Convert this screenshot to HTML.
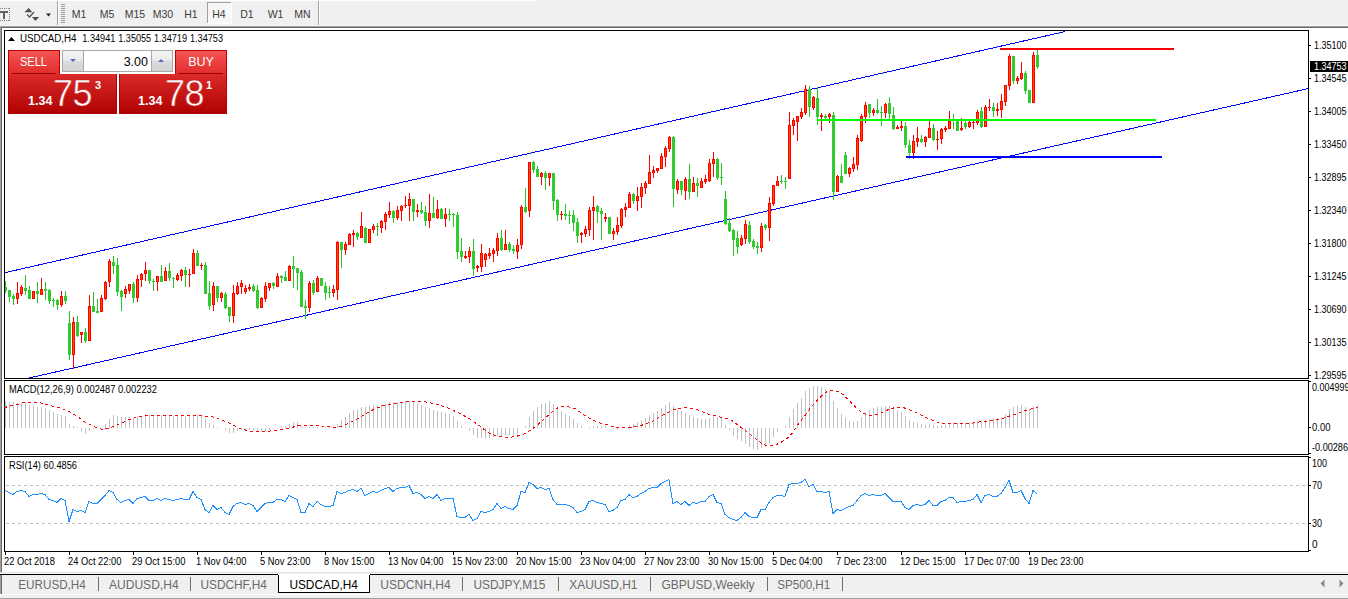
<!DOCTYPE html>
<html><head><meta charset="utf-8"><title>USDCAD,H4</title><style>
*{margin:0;padding:0;box-sizing:border-box}
html,body{width:1348px;height:599px;overflow:hidden;background:#fff}
body{position:relative;font-family:"Liberation Sans",sans-serif}
svg{position:absolute;left:0;top:0}
svg text{font-family:"Liberation Sans",sans-serif}
.sellT,.buyT{position:absolute;top:50px;height:25px;background:linear-gradient(#f65454,#e02a2a);border:1px solid #b80000;border-bottom:none;color:#fff;font-size:12px;text-align:center}
.sellT{left:8px;width:52px}
.buyT{left:175px;width:52px}
.sellT span,.buyT span{position:absolute;left:0;right:0;top:4px}
.sellT span{transform:scaleX(0.92);left:-1px}
.buyT span{font-size:12.5px}
.sellT:after,.buyT:after{content:"";position:absolute;left:3px;right:3px;top:22px;height:1px;background:#9a0000}
.sellP,.buyP{position:absolute;top:74px;height:40px;background:linear-gradient(#da2a2a,#b10202);border:1px solid #b00000;border-top:none;color:#fff}
.sellP{left:8px;width:109px}
.buyP{left:119px;width:108px}
.sellP .s,.buyP .s{position:absolute;top:20px;font-size:12.5px;font-weight:bold}
.sellP .b,.buyP .b{position:absolute;top:-1px;font-size:36px;font-weight:normal;letter-spacing:-0.5px;-webkit-text-stroke:0.6px #cc1c1c}
.sellP .p,.buyP .p{position:absolute;top:5px;font-size:11px;font-weight:bold}
.sellP .s{left:19px}.sellP .b{left:44px}.sellP .p{left:86px}
.buyP .s{left:18px}.buyP .b{left:45px}.buyP .p{left:86px}
.lot{position:absolute;left:62px;top:50px;width:111px;height:22px;border:1px solid #a8a8a8;background:#fff}
.lb,.rb{position:absolute;top:0;width:21px;height:20px;background:linear-gradient(#f3f3f3 0%,#ececec 45%,#dcdcdc 50%,#d4d4d4 100%)}
.lb{left:0;border-right:1px solid #a8a8a8}.rb{right:0;border-left:1px solid #a8a8a8}
.lv{position:absolute;left:22px;width:63px;top:4px;text-align:right;font-size:12.5px;color:#000}
.dn,.up{position:absolute;left:7px;top:8px;width:0;height:0;border-left:3px solid transparent;border-right:3px solid transparent}
.dn{border-top:3px solid #5868c8}
.up{border-bottom:3px solid #5868c8;left:6px}
</style></head>
<body>
<svg width="1348" height="599" viewBox="0 0 1348 599">
<rect x="0" y="0" width="1348" height="26" fill="#f0f0f0"/>
<rect x="0" y="0" width="536" height="1" fill="#ffffff"/>
<rect x="0" y="25" width="1348" height="1" fill="#f7f7f7"/>
<rect x="0" y="26" width="1348" height="1" fill="#a0a0a0"/>
<rect x="1" y="27" width="1347" height="1" fill="#696969"/>
<rect x="0" y="26" width="1" height="546" fill="#a0a0a0"/>
<rect x="1" y="27" width="1" height="545" fill="#696969"/>
<rect x="57" y="1" width="1" height="24" fill="#a0a0a0"/>
<rect x="58" y="1" width="1" height="24" fill="#ffffff"/>
<rect x="318" y="1" width="1" height="24" fill="#a0a0a0"/>
<rect x="319" y="1" width="1" height="24" fill="#ffffff"/>
<rect x="61" y="4" width="4" height="1" fill="#a0a0a0"/>
<rect x="61" y="6" width="4" height="1" fill="#a0a0a0"/>
<rect x="61" y="8" width="4" height="1" fill="#a0a0a0"/>
<rect x="61" y="10" width="4" height="1" fill="#a0a0a0"/>
<rect x="61" y="12" width="4" height="1" fill="#a0a0a0"/>
<rect x="61" y="14" width="4" height="1" fill="#a0a0a0"/>
<rect x="61" y="16" width="4" height="1" fill="#a0a0a0"/>
<rect x="61" y="18" width="4" height="1" fill="#a0a0a0"/>
<rect x="61" y="20" width="4" height="1" fill="#a0a0a0"/>
<rect x="61" y="22" width="4" height="1" fill="#a0a0a0"/>
<rect x="0" y="8" width="1" height="1" fill="#808080"/>
<rect x="0" y="20" width="1" height="1" fill="#808080"/>
<rect x="2" y="8" width="1" height="1" fill="#808080"/>
<rect x="2" y="20" width="1" height="1" fill="#808080"/>
<rect x="4" y="8" width="1" height="1" fill="#808080"/>
<rect x="4" y="20" width="1" height="1" fill="#808080"/>
<rect x="6" y="8" width="1" height="1" fill="#808080"/>
<rect x="6" y="20" width="1" height="1" fill="#808080"/>
<rect x="8" y="8" width="1" height="1" fill="#808080"/>
<rect x="8" y="20" width="1" height="1" fill="#808080"/>
<rect x="9" y="8" width="1" height="1" fill="#808080"/>
<rect x="9" y="10" width="1" height="1" fill="#808080"/>
<rect x="9" y="12" width="1" height="1" fill="#808080"/>
<rect x="9" y="14" width="1" height="1" fill="#808080"/>
<rect x="9" y="16" width="1" height="1" fill="#808080"/>
<rect x="9" y="18" width="1" height="1" fill="#808080"/>
<rect x="9" y="20" width="1" height="1" fill="#808080"/>
<rect x="0" y="11" width="8" height="2" fill="#606060"/>
<rect x="3" y="11" width="2" height="8" fill="#606060"/>
<path d="M28.5 8 L32.5 12.3 L24.5 12.3 Z" fill="#505050"/>
<path d="M35.5 21 L39 17 L32 17 Z" fill="#505050"/>
<path d="M27 14.5 L29.5 17 L34 12" stroke="#505050" stroke-width="1.3" fill="none"/>
<path d="M46 13.5 L51 13.5 L48.5 16.5 Z" fill="#202020"/>
<rect x="207" y="2" width="25" height="22" fill="#f7f7f7"/>
<rect x="207" y="2" width="25" height="1" fill="#a0a0a0"/>
<rect x="207" y="2" width="1" height="22" fill="#a0a0a0"/>
<rect x="207" y="23" width="25" height="1" fill="#ffffff"/>
<rect x="231" y="2" width="1" height="22" fill="#ffffff"/>
<text x="79" y="18" font-size="10.5" fill="#3c3c3c" text-anchor="middle" font-weight="normal" >M1</text>
<text x="107" y="18" font-size="10.5" fill="#3c3c3c" text-anchor="middle" font-weight="normal" >M5</text>
<text x="135" y="18" font-size="10.5" fill="#3c3c3c" text-anchor="middle" font-weight="normal" >M15</text>
<text x="163" y="18" font-size="10.5" fill="#3c3c3c" text-anchor="middle" font-weight="normal" >M30</text>
<text x="191" y="18" font-size="10.5" fill="#3c3c3c" text-anchor="middle" font-weight="normal" >H1</text>
<text x="219" y="18" font-size="10.5" fill="#3c3c3c" text-anchor="middle" font-weight="normal" >H4</text>
<text x="247" y="18" font-size="10.5" fill="#3c3c3c" text-anchor="middle" font-weight="normal" >D1</text>
<text x="275.5" y="18" font-size="10.5" fill="#3c3c3c" text-anchor="middle" font-weight="normal" >W1</text>
<text x="302.5" y="18" font-size="10.5" fill="#3c3c3c" text-anchor="middle" font-weight="normal" >MN</text>
<rect x="2" y="28" width="1346" height="544" fill="#ffffff"/>
<rect x="4" y="30" width="1305" height="1" fill="#000"/>
<rect x="4" y="378" width="1305" height="1" fill="#000"/>
<rect x="4" y="30" width="1" height="349" fill="#000"/>
<rect x="1308" y="30" width="1" height="349" fill="#000"/>
<rect x="4" y="380" width="1305" height="1" fill="#000"/>
<rect x="4" y="454" width="1305" height="1" fill="#000"/>
<rect x="4" y="380" width="1" height="75" fill="#000"/>
<rect x="1308" y="380" width="1" height="75" fill="#000"/>
<rect x="4" y="456" width="1305" height="1" fill="#000"/>
<rect x="4" y="551" width="1305" height="1" fill="#000"/>
<rect x="4" y="456" width="1" height="96" fill="#000"/>
<rect x="1308" y="456" width="1" height="96" fill="#000"/>
<rect x="1309" y="45" width="2" height="1" fill="#000"/>
<text x="1314" y="49" font-size="10" fill="#000" text-anchor="start" font-weight="normal"  textLength="32.5" lengthAdjust="spacingAndGlyphs">1.35100</text>
<rect x="1309" y="78" width="2" height="1" fill="#000"/>
<text x="1314" y="82" font-size="10" fill="#000" text-anchor="start" font-weight="normal"  textLength="32.5" lengthAdjust="spacingAndGlyphs">1.34545</text>
<rect x="1309" y="111" width="2" height="1" fill="#000"/>
<text x="1314" y="115" font-size="10" fill="#000" text-anchor="start" font-weight="normal"  textLength="32.5" lengthAdjust="spacingAndGlyphs">1.34005</text>
<rect x="1309" y="144" width="2" height="1" fill="#000"/>
<text x="1314" y="148" font-size="10" fill="#000" text-anchor="start" font-weight="normal"  textLength="32.5" lengthAdjust="spacingAndGlyphs">1.33450</text>
<rect x="1309" y="177" width="2" height="1" fill="#000"/>
<text x="1314" y="181" font-size="10" fill="#000" text-anchor="start" font-weight="normal"  textLength="32.5" lengthAdjust="spacingAndGlyphs">1.32895</text>
<rect x="1309" y="210" width="2" height="1" fill="#000"/>
<text x="1314" y="214" font-size="10" fill="#000" text-anchor="start" font-weight="normal"  textLength="32.5" lengthAdjust="spacingAndGlyphs">1.32340</text>
<rect x="1309" y="243" width="2" height="1" fill="#000"/>
<text x="1314" y="247" font-size="10" fill="#000" text-anchor="start" font-weight="normal"  textLength="32.5" lengthAdjust="spacingAndGlyphs">1.31800</text>
<rect x="1309" y="276" width="2" height="1" fill="#000"/>
<text x="1314" y="280" font-size="10" fill="#000" text-anchor="start" font-weight="normal"  textLength="32.5" lengthAdjust="spacingAndGlyphs">1.31245</text>
<rect x="1309" y="309" width="2" height="1" fill="#000"/>
<text x="1314" y="313" font-size="10" fill="#000" text-anchor="start" font-weight="normal"  textLength="32.5" lengthAdjust="spacingAndGlyphs">1.30690</text>
<rect x="1309" y="342" width="2" height="1" fill="#000"/>
<text x="1314" y="346" font-size="10" fill="#000" text-anchor="start" font-weight="normal"  textLength="32.5" lengthAdjust="spacingAndGlyphs">1.30135</text>
<rect x="1309" y="375" width="2" height="1" fill="#000"/>
<text x="1314" y="379" font-size="10" fill="#000" text-anchor="start" font-weight="normal"  textLength="32.5" lengthAdjust="spacingAndGlyphs">1.29595</text>
<rect x="1310" y="61" width="38" height="11" fill="#000"/>
<text x="1314" y="70" font-size="10" fill="#fff" text-anchor="start" font-weight="normal"  textLength="32.5" lengthAdjust="spacingAndGlyphs">1.34753</text>
<rect x="1309" y="381" width="2" height="1" fill="#000"/>
<text x="1312" y="391" font-size="10" fill="#000" text-anchor="start" font-weight="normal"  textLength="37.5" lengthAdjust="spacingAndGlyphs">0.004999</text>
<rect x="1309" y="427" width="2" height="1" fill="#000"/>
<text x="1312" y="431" font-size="10" fill="#000" text-anchor="start" font-weight="normal"  textLength="18.4" lengthAdjust="spacingAndGlyphs">0.00</text>
<rect x="1309" y="453" width="2" height="1" fill="#000"/>
<text x="1312" y="451" font-size="10" fill="#000" text-anchor="start" font-weight="normal"  textLength="36" lengthAdjust="spacingAndGlyphs">-0.00286</text>
<rect x="1309" y="457" width="2" height="1" fill="#000"/>
<text x="1312" y="467" font-size="10" fill="#000" text-anchor="start" font-weight="normal"  textLength="15" lengthAdjust="spacingAndGlyphs">100</text>
<rect x="1309" y="485" width="2" height="1" fill="#000"/>
<text x="1312" y="489" font-size="10" fill="#000" text-anchor="start" font-weight="normal"  textLength="10" lengthAdjust="spacingAndGlyphs">70</text>
<rect x="1309" y="523" width="2" height="1" fill="#000"/>
<text x="1312" y="527" font-size="10" fill="#000" text-anchor="start" font-weight="normal"  textLength="10" lengthAdjust="spacingAndGlyphs">30</text>
<rect x="1309" y="550" width="2" height="1" fill="#000"/>
<text x="1312" y="548" font-size="10" fill="#000" text-anchor="start" font-weight="normal" >0</text>
<rect x="5" y="552" width="1" height="3" fill="#000"/>
<text transform="translate(4,565) scale(0.925,1)" font-size="10.1" fill="#000">22 Oct 2018</text>
<rect x="69" y="552" width="1" height="3" fill="#000"/>
<text transform="translate(68,565) scale(0.925,1)" font-size="10.1" fill="#000">24 Oct 22:00</text>
<rect x="133" y="552" width="1" height="3" fill="#000"/>
<text transform="translate(132,565) scale(0.925,1)" font-size="10.1" fill="#000">29 Oct 15:00</text>
<rect x="197" y="552" width="1" height="3" fill="#000"/>
<text transform="translate(196,565) scale(0.925,1)" font-size="10.1" fill="#000">1 Nov 04:00</text>
<rect x="261" y="552" width="1" height="3" fill="#000"/>
<text transform="translate(260,565) scale(0.925,1)" font-size="10.1" fill="#000">5 Nov 23:00</text>
<rect x="325" y="552" width="1" height="3" fill="#000"/>
<text transform="translate(324,565) scale(0.925,1)" font-size="10.1" fill="#000">8 Nov 15:00</text>
<rect x="389" y="552" width="1" height="3" fill="#000"/>
<text transform="translate(388,565) scale(0.925,1)" font-size="10.1" fill="#000">13 Nov 04:00</text>
<rect x="453" y="552" width="1" height="3" fill="#000"/>
<text transform="translate(452,565) scale(0.925,1)" font-size="10.1" fill="#000">15 Nov 23:00</text>
<rect x="517" y="552" width="1" height="3" fill="#000"/>
<text transform="translate(516,565) scale(0.925,1)" font-size="10.1" fill="#000">20 Nov 15:00</text>
<rect x="581" y="552" width="1" height="3" fill="#000"/>
<text transform="translate(580,565) scale(0.925,1)" font-size="10.1" fill="#000">23 Nov 04:00</text>
<rect x="645" y="552" width="1" height="3" fill="#000"/>
<text transform="translate(644,565) scale(0.925,1)" font-size="10.1" fill="#000">27 Nov 23:00</text>
<rect x="709" y="552" width="1" height="3" fill="#000"/>
<text transform="translate(708,565) scale(0.925,1)" font-size="10.1" fill="#000">30 Nov 15:00</text>
<rect x="773" y="552" width="1" height="3" fill="#000"/>
<text transform="translate(772,565) scale(0.925,1)" font-size="10.1" fill="#000">5 Dec 04:00</text>
<rect x="837" y="552" width="1" height="3" fill="#000"/>
<text transform="translate(836,565) scale(0.925,1)" font-size="10.1" fill="#000">7 Dec 23:00</text>
<rect x="901" y="552" width="1" height="3" fill="#000"/>
<text transform="translate(900,565) scale(0.925,1)" font-size="10.1" fill="#000">12 Dec 15:00</text>
<rect x="965" y="552" width="1" height="3" fill="#000"/>
<text transform="translate(964,565) scale(0.925,1)" font-size="10.1" fill="#000">17 Dec 07:00</text>
<rect x="1029" y="552" width="1" height="3" fill="#000"/>
<text transform="translate(1028,565) scale(0.925,1)" font-size="10.1" fill="#000">19 Dec 23:00</text>
<defs><clipPath id="cm"><rect x="5" y="31" width="1303" height="347"/></clipPath></defs>
<g clip-path="url(#cm)" shape-rendering="crispEdges" stroke="#0000ff" stroke-width="1" fill="none">
<line x1="0" y1="273.76" x2="1064.6" y2="31.66"/>
<line x1="0" y1="384.57" x2="1310" y2="88.18"/>
</g>
<g clip-path="url(#cm)" shape-rendering="crispEdges">
<rect x="5" y="281" width="1" height="12" fill="#22c822"/>
<rect x="4" y="287" width="3" height="4" fill="#2ecc2e"/>
<rect x="9" y="290" width="1" height="12" fill="#22c822"/>
<rect x="8" y="290" width="3" height="7" fill="#2ecc2e"/>
<rect x="13" y="294" width="1" height="11" fill="#22c822"/>
<rect x="12" y="296" width="3" height="3" fill="#2ecc2e"/>
<rect x="17" y="282" width="1" height="22" fill="#ff0000"/>
<rect x="16" y="293" width="3" height="6" fill="#ff0000"/>
<rect x="17" y="294" width="1" height="4" fill="#ff4a00"/>
<rect x="21" y="285" width="1" height="11" fill="#ff0000"/>
<rect x="20" y="287" width="3" height="7" fill="#ff0000"/>
<rect x="21" y="288" width="1" height="5" fill="#ff4a00"/>
<rect x="25" y="275" width="1" height="20" fill="#22c822"/>
<rect x="24" y="288" width="3" height="3" fill="#2ecc2e"/>
<rect x="29" y="286" width="1" height="13" fill="#22c822"/>
<rect x="28" y="290" width="3" height="9" fill="#2ecc2e"/>
<rect x="33" y="291" width="1" height="8" fill="#ff0000"/>
<rect x="32" y="291" width="3" height="8" fill="#ff0000"/>
<rect x="33" y="292" width="1" height="6" fill="#ff4a00"/>
<rect x="37" y="282" width="1" height="21" fill="#22c822"/>
<rect x="36" y="291" width="3" height="3" fill="#2ecc2e"/>
<rect x="41" y="278" width="1" height="17" fill="#ff0000"/>
<rect x="40" y="289" width="3" height="6" fill="#ff0000"/>
<rect x="41" y="290" width="1" height="4" fill="#ff4a00"/>
<rect x="45" y="282" width="1" height="18" fill="#22c822"/>
<rect x="44" y="289" width="3" height="2" fill="#2ecc2e"/>
<rect x="49" y="289" width="1" height="15" fill="#22c822"/>
<rect x="48" y="290" width="3" height="11" fill="#2ecc2e"/>
<rect x="53" y="298" width="1" height="9" fill="#22c822"/>
<rect x="52" y="300" width="3" height="1" fill="#2ecc2e"/>
<rect x="57" y="299" width="1" height="11" fill="#22c822"/>
<rect x="56" y="300" width="3" height="5" fill="#2ecc2e"/>
<rect x="61" y="291" width="1" height="16" fill="#ff0000"/>
<rect x="60" y="296" width="3" height="9" fill="#ff0000"/>
<rect x="61" y="297" width="1" height="7" fill="#ff4a00"/>
<rect x="65" y="291" width="1" height="13" fill="#22c822"/>
<rect x="64" y="296" width="3" height="5" fill="#2ecc2e"/>
<rect x="69" y="311" width="1" height="49" fill="#22c822"/>
<rect x="68" y="323" width="3" height="32" fill="#2ecc2e"/>
<rect x="73" y="317" width="1" height="52" fill="#ff0000"/>
<rect x="72" y="322" width="3" height="33" fill="#ff0000"/>
<rect x="73" y="323" width="1" height="31" fill="#ff4a00"/>
<rect x="77" y="316" width="1" height="21" fill="#22c822"/>
<rect x="76" y="322" width="3" height="14" fill="#2ecc2e"/>
<rect x="81" y="332" width="1" height="11" fill="#ff0000"/>
<rect x="80" y="332" width="3" height="3" fill="#ff0000"/>
<rect x="81" y="333" width="1" height="1" fill="#ff4a00"/>
<rect x="85" y="328" width="1" height="15" fill="#22c822"/>
<rect x="84" y="332" width="3" height="9" fill="#2ecc2e"/>
<rect x="89" y="295" width="1" height="46" fill="#ff0000"/>
<rect x="88" y="306" width="3" height="35" fill="#ff0000"/>
<rect x="89" y="307" width="1" height="33" fill="#ff4a00"/>
<rect x="93" y="292" width="1" height="20" fill="#22c822"/>
<rect x="92" y="306" width="3" height="6" fill="#2ecc2e"/>
<rect x="97" y="299" width="1" height="14" fill="#22c822"/>
<rect x="96" y="311" width="3" height="2" fill="#2ecc2e"/>
<rect x="101" y="295" width="1" height="17" fill="#ff0000"/>
<rect x="100" y="298" width="3" height="14" fill="#ff0000"/>
<rect x="101" y="299" width="1" height="12" fill="#ff4a00"/>
<rect x="105" y="281" width="1" height="19" fill="#ff0000"/>
<rect x="104" y="282" width="3" height="17" fill="#ff0000"/>
<rect x="105" y="283" width="1" height="15" fill="#ff4a00"/>
<rect x="109" y="259" width="1" height="28" fill="#ff0000"/>
<rect x="108" y="261" width="3" height="21" fill="#ff0000"/>
<rect x="109" y="262" width="1" height="19" fill="#ff4a00"/>
<rect x="113" y="256" width="1" height="18" fill="#22c822"/>
<rect x="112" y="262" width="3" height="4" fill="#2ecc2e"/>
<rect x="117" y="258" width="1" height="38" fill="#22c822"/>
<rect x="116" y="265" width="3" height="27" fill="#2ecc2e"/>
<rect x="121" y="290" width="1" height="21" fill="#22c822"/>
<rect x="120" y="291" width="3" height="6" fill="#2ecc2e"/>
<rect x="125" y="286" width="1" height="12" fill="#ff0000"/>
<rect x="124" y="289" width="3" height="5" fill="#ff0000"/>
<rect x="125" y="290" width="1" height="3" fill="#ff4a00"/>
<rect x="129" y="284" width="1" height="10" fill="#ff0000"/>
<rect x="128" y="284" width="3" height="7" fill="#ff0000"/>
<rect x="129" y="285" width="1" height="5" fill="#ff4a00"/>
<rect x="133" y="282" width="1" height="21" fill="#22c822"/>
<rect x="132" y="284" width="3" height="14" fill="#2ecc2e"/>
<rect x="137" y="275" width="1" height="27" fill="#ff0000"/>
<rect x="136" y="279" width="3" height="19" fill="#ff0000"/>
<rect x="137" y="280" width="1" height="17" fill="#ff4a00"/>
<rect x="141" y="273" width="1" height="14" fill="#ff0000"/>
<rect x="140" y="274" width="3" height="6" fill="#ff0000"/>
<rect x="141" y="275" width="1" height="4" fill="#ff4a00"/>
<rect x="145" y="262" width="1" height="19" fill="#ff0000"/>
<rect x="144" y="270" width="3" height="4" fill="#ff0000"/>
<rect x="145" y="271" width="1" height="2" fill="#ff4a00"/>
<rect x="149" y="270" width="1" height="14" fill="#22c822"/>
<rect x="148" y="270" width="3" height="11" fill="#2ecc2e"/>
<rect x="153" y="279" width="1" height="12" fill="#22c822"/>
<rect x="152" y="281" width="3" height="1" fill="#2ecc2e"/>
<rect x="157" y="276" width="1" height="15" fill="#ff0000"/>
<rect x="156" y="276" width="3" height="6" fill="#ff0000"/>
<rect x="157" y="277" width="1" height="4" fill="#ff4a00"/>
<rect x="161" y="265" width="1" height="17" fill="#22c822"/>
<rect x="160" y="276" width="3" height="6" fill="#2ecc2e"/>
<rect x="165" y="267" width="1" height="14" fill="#ff0000"/>
<rect x="164" y="271" width="3" height="10" fill="#ff0000"/>
<rect x="165" y="272" width="1" height="8" fill="#ff4a00"/>
<rect x="169" y="263" width="1" height="18" fill="#22c822"/>
<rect x="168" y="271" width="3" height="7" fill="#2ecc2e"/>
<rect x="173" y="277" width="1" height="11" fill="#22c822"/>
<rect x="172" y="278" width="3" height="1" fill="#2ecc2e"/>
<rect x="177" y="273" width="1" height="8" fill="#ff0000"/>
<rect x="176" y="275" width="3" height="5" fill="#ff0000"/>
<rect x="177" y="276" width="1" height="3" fill="#ff4a00"/>
<rect x="181" y="269" width="1" height="12" fill="#ff0000"/>
<rect x="180" y="270" width="3" height="6" fill="#ff0000"/>
<rect x="181" y="271" width="1" height="4" fill="#ff4a00"/>
<rect x="185" y="267" width="1" height="20" fill="#22c822"/>
<rect x="184" y="270" width="3" height="5" fill="#2ecc2e"/>
<rect x="189" y="269" width="1" height="18" fill="#ff0000"/>
<rect x="188" y="274" width="3" height="1" fill="#ff0000"/>
<rect x="193" y="249" width="1" height="25" fill="#ff0000"/>
<rect x="192" y="253" width="3" height="21" fill="#ff0000"/>
<rect x="193" y="254" width="1" height="19" fill="#ff4a00"/>
<rect x="197" y="250" width="1" height="16" fill="#22c822"/>
<rect x="196" y="253" width="3" height="13" fill="#2ecc2e"/>
<rect x="201" y="263" width="1" height="7" fill="#ff0000"/>
<rect x="200" y="265" width="3" height="1" fill="#ff0000"/>
<rect x="205" y="262" width="1" height="32" fill="#22c822"/>
<rect x="204" y="265" width="3" height="29" fill="#2ecc2e"/>
<rect x="209" y="281" width="1" height="29" fill="#22c822"/>
<rect x="208" y="293" width="3" height="13" fill="#2ecc2e"/>
<rect x="213" y="282" width="1" height="29" fill="#ff0000"/>
<rect x="212" y="286" width="3" height="19" fill="#ff0000"/>
<rect x="213" y="287" width="1" height="17" fill="#ff4a00"/>
<rect x="217" y="286" width="1" height="16" fill="#22c822"/>
<rect x="216" y="286" width="3" height="12" fill="#2ecc2e"/>
<rect x="221" y="292" width="1" height="10" fill="#ff0000"/>
<rect x="220" y="293" width="3" height="5" fill="#ff0000"/>
<rect x="221" y="294" width="1" height="3" fill="#ff4a00"/>
<rect x="225" y="292" width="1" height="17" fill="#22c822"/>
<rect x="224" y="294" width="3" height="14" fill="#2ecc2e"/>
<rect x="229" y="307" width="1" height="15" fill="#22c822"/>
<rect x="228" y="307" width="3" height="9" fill="#2ecc2e"/>
<rect x="233" y="285" width="1" height="38" fill="#ff0000"/>
<rect x="232" y="293" width="3" height="23" fill="#ff0000"/>
<rect x="233" y="294" width="1" height="21" fill="#ff4a00"/>
<rect x="237" y="282" width="1" height="13" fill="#ff0000"/>
<rect x="236" y="286" width="3" height="8" fill="#ff0000"/>
<rect x="237" y="287" width="1" height="6" fill="#ff4a00"/>
<rect x="241" y="280" width="1" height="14" fill="#ff0000"/>
<rect x="240" y="283" width="3" height="4" fill="#ff0000"/>
<rect x="241" y="284" width="1" height="2" fill="#ff4a00"/>
<rect x="245" y="285" width="1" height="9" fill="#ff0000"/>
<rect x="244" y="288" width="3" height="4" fill="#ff0000"/>
<rect x="245" y="289" width="1" height="2" fill="#ff4a00"/>
<rect x="249" y="284" width="1" height="7" fill="#ff0000"/>
<rect x="248" y="287" width="3" height="2" fill="#ff0000"/>
<rect x="253" y="284" width="1" height="8" fill="#22c822"/>
<rect x="252" y="286" width="3" height="5" fill="#2ecc2e"/>
<rect x="257" y="285" width="1" height="24" fill="#22c822"/>
<rect x="256" y="290" width="3" height="18" fill="#2ecc2e"/>
<rect x="261" y="297" width="1" height="11" fill="#ff0000"/>
<rect x="260" y="298" width="3" height="10" fill="#ff0000"/>
<rect x="261" y="299" width="1" height="8" fill="#ff4a00"/>
<rect x="265" y="282" width="1" height="20" fill="#ff0000"/>
<rect x="264" y="286" width="3" height="13" fill="#ff0000"/>
<rect x="265" y="287" width="1" height="11" fill="#ff4a00"/>
<rect x="269" y="283" width="1" height="8" fill="#ff0000"/>
<rect x="268" y="283" width="3" height="5" fill="#ff0000"/>
<rect x="269" y="284" width="1" height="3" fill="#ff4a00"/>
<rect x="273" y="282" width="1" height="7" fill="#22c822"/>
<rect x="272" y="283" width="3" height="3" fill="#2ecc2e"/>
<rect x="277" y="273" width="1" height="14" fill="#ff0000"/>
<rect x="276" y="276" width="3" height="11" fill="#ff0000"/>
<rect x="277" y="277" width="1" height="9" fill="#ff4a00"/>
<rect x="281" y="275" width="1" height="8" fill="#22c822"/>
<rect x="280" y="276" width="3" height="2" fill="#2ecc2e"/>
<rect x="285" y="271" width="1" height="10" fill="#22c822"/>
<rect x="284" y="277" width="3" height="4" fill="#2ecc2e"/>
<rect x="289" y="265" width="1" height="16" fill="#ff0000"/>
<rect x="288" y="266" width="3" height="15" fill="#ff0000"/>
<rect x="289" y="267" width="1" height="13" fill="#ff4a00"/>
<rect x="293" y="256" width="1" height="32" fill="#22c822"/>
<rect x="292" y="266" width="3" height="3" fill="#2ecc2e"/>
<rect x="297" y="268" width="1" height="22" fill="#22c822"/>
<rect x="296" y="268" width="3" height="5" fill="#2ecc2e"/>
<rect x="301" y="270" width="1" height="37" fill="#22c822"/>
<rect x="300" y="272" width="3" height="35" fill="#2ecc2e"/>
<rect x="305" y="300" width="1" height="19" fill="#22c822"/>
<rect x="304" y="306" width="3" height="2" fill="#2ecc2e"/>
<rect x="309" y="281" width="1" height="31" fill="#ff0000"/>
<rect x="308" y="283" width="3" height="25" fill="#ff0000"/>
<rect x="309" y="284" width="1" height="23" fill="#ff4a00"/>
<rect x="313" y="280" width="1" height="15" fill="#22c822"/>
<rect x="312" y="283" width="3" height="10" fill="#2ecc2e"/>
<rect x="317" y="276" width="1" height="16" fill="#ff0000"/>
<rect x="316" y="278" width="3" height="14" fill="#ff0000"/>
<rect x="317" y="279" width="1" height="12" fill="#ff4a00"/>
<rect x="321" y="278" width="1" height="8" fill="#22c822"/>
<rect x="320" y="278" width="3" height="8" fill="#2ecc2e"/>
<rect x="325" y="282" width="1" height="18" fill="#22c822"/>
<rect x="324" y="286" width="3" height="7" fill="#2ecc2e"/>
<rect x="329" y="286" width="1" height="12" fill="#22c822"/>
<rect x="328" y="292" width="3" height="1" fill="#2ecc2e"/>
<rect x="333" y="285" width="1" height="12" fill="#ff0000"/>
<rect x="332" y="289" width="3" height="4" fill="#ff0000"/>
<rect x="333" y="290" width="1" height="2" fill="#ff4a00"/>
<rect x="337" y="241" width="1" height="59" fill="#ff0000"/>
<rect x="336" y="242" width="3" height="48" fill="#ff0000"/>
<rect x="337" y="243" width="1" height="46" fill="#ff4a00"/>
<rect x="341" y="242" width="1" height="26" fill="#22c822"/>
<rect x="340" y="242" width="3" height="8" fill="#2ecc2e"/>
<rect x="345" y="242" width="1" height="13" fill="#ff0000"/>
<rect x="344" y="244" width="3" height="6" fill="#ff0000"/>
<rect x="345" y="245" width="1" height="4" fill="#ff4a00"/>
<rect x="349" y="233" width="1" height="12" fill="#ff0000"/>
<rect x="348" y="234" width="3" height="11" fill="#ff0000"/>
<rect x="349" y="235" width="1" height="9" fill="#ff4a00"/>
<rect x="353" y="230" width="1" height="17" fill="#ff0000"/>
<rect x="352" y="233" width="3" height="2" fill="#ff0000"/>
<rect x="357" y="232" width="1" height="8" fill="#22c822"/>
<rect x="356" y="233" width="3" height="4" fill="#2ecc2e"/>
<rect x="361" y="212" width="1" height="26" fill="#ff0000"/>
<rect x="360" y="226" width="3" height="12" fill="#ff0000"/>
<rect x="361" y="227" width="1" height="10" fill="#ff4a00"/>
<rect x="365" y="227" width="1" height="16" fill="#22c822"/>
<rect x="364" y="228" width="3" height="15" fill="#2ecc2e"/>
<rect x="369" y="229" width="1" height="14" fill="#ff0000"/>
<rect x="368" y="229" width="3" height="14" fill="#ff0000"/>
<rect x="369" y="230" width="1" height="12" fill="#ff4a00"/>
<rect x="373" y="224" width="1" height="9" fill="#ff0000"/>
<rect x="372" y="226" width="3" height="4" fill="#ff0000"/>
<rect x="373" y="227" width="1" height="2" fill="#ff4a00"/>
<rect x="377" y="223" width="1" height="13" fill="#22c822"/>
<rect x="376" y="226" width="3" height="1" fill="#2ecc2e"/>
<rect x="381" y="220" width="1" height="13" fill="#ff0000"/>
<rect x="380" y="221" width="3" height="7" fill="#ff0000"/>
<rect x="381" y="222" width="1" height="5" fill="#ff4a00"/>
<rect x="385" y="212" width="1" height="18" fill="#ff0000"/>
<rect x="384" y="214" width="3" height="8" fill="#ff0000"/>
<rect x="385" y="215" width="1" height="6" fill="#ff4a00"/>
<rect x="389" y="202" width="1" height="16" fill="#ff0000"/>
<rect x="388" y="211" width="3" height="4" fill="#ff0000"/>
<rect x="389" y="212" width="1" height="2" fill="#ff4a00"/>
<rect x="393" y="210" width="1" height="13" fill="#22c822"/>
<rect x="392" y="211" width="3" height="7" fill="#2ecc2e"/>
<rect x="397" y="206" width="1" height="14" fill="#ff0000"/>
<rect x="396" y="210" width="3" height="8" fill="#ff0000"/>
<rect x="397" y="211" width="1" height="6" fill="#ff4a00"/>
<rect x="401" y="205" width="1" height="16" fill="#ff0000"/>
<rect x="400" y="206" width="3" height="5" fill="#ff0000"/>
<rect x="401" y="207" width="1" height="3" fill="#ff4a00"/>
<rect x="405" y="196" width="1" height="12" fill="#ff0000"/>
<rect x="404" y="205" width="3" height="1" fill="#ff0000"/>
<rect x="409" y="193" width="1" height="28" fill="#ff0000"/>
<rect x="408" y="199" width="3" height="7" fill="#ff0000"/>
<rect x="409" y="200" width="1" height="5" fill="#ff4a00"/>
<rect x="413" y="199" width="1" height="22" fill="#22c822"/>
<rect x="412" y="199" width="3" height="13" fill="#2ecc2e"/>
<rect x="417" y="204" width="1" height="13" fill="#ff0000"/>
<rect x="416" y="210" width="3" height="2" fill="#ff0000"/>
<rect x="421" y="202" width="1" height="12" fill="#22c822"/>
<rect x="420" y="210" width="3" height="3" fill="#2ecc2e"/>
<rect x="425" y="206" width="1" height="20" fill="#22c822"/>
<rect x="424" y="212" width="3" height="9" fill="#2ecc2e"/>
<rect x="429" y="194" width="1" height="34" fill="#ff0000"/>
<rect x="428" y="213" width="3" height="8" fill="#ff0000"/>
<rect x="429" y="214" width="1" height="6" fill="#ff4a00"/>
<rect x="433" y="197" width="1" height="21" fill="#22c822"/>
<rect x="432" y="213" width="3" height="5" fill="#2ecc2e"/>
<rect x="437" y="200" width="1" height="19" fill="#ff0000"/>
<rect x="436" y="209" width="3" height="9" fill="#ff0000"/>
<rect x="437" y="210" width="1" height="7" fill="#ff4a00"/>
<rect x="441" y="208" width="1" height="11" fill="#22c822"/>
<rect x="440" y="209" width="3" height="10" fill="#2ecc2e"/>
<rect x="445" y="208" width="1" height="19" fill="#ff0000"/>
<rect x="444" y="214" width="3" height="5" fill="#ff0000"/>
<rect x="445" y="215" width="1" height="3" fill="#ff4a00"/>
<rect x="449" y="209" width="1" height="12" fill="#22c822"/>
<rect x="448" y="214" width="3" height="1" fill="#2ecc2e"/>
<rect x="453" y="213" width="1" height="14" fill="#22c822"/>
<rect x="452" y="214" width="3" height="1" fill="#2ecc2e"/>
<rect x="457" y="212" width="1" height="47" fill="#22c822"/>
<rect x="456" y="215" width="3" height="37" fill="#2ecc2e"/>
<rect x="461" y="238" width="1" height="24" fill="#22c822"/>
<rect x="460" y="251" width="3" height="6" fill="#2ecc2e"/>
<rect x="465" y="251" width="1" height="8" fill="#ff0000"/>
<rect x="464" y="256" width="3" height="2" fill="#ff0000"/>
<rect x="469" y="247" width="1" height="16" fill="#ff0000"/>
<rect x="468" y="251" width="3" height="6" fill="#ff0000"/>
<rect x="469" y="252" width="1" height="4" fill="#ff4a00"/>
<rect x="473" y="239" width="1" height="37" fill="#22c822"/>
<rect x="472" y="251" width="3" height="18" fill="#2ecc2e"/>
<rect x="477" y="265" width="1" height="7" fill="#ff0000"/>
<rect x="476" y="266" width="3" height="2" fill="#ff0000"/>
<rect x="481" y="244" width="1" height="28" fill="#ff0000"/>
<rect x="480" y="253" width="3" height="14" fill="#ff0000"/>
<rect x="481" y="254" width="1" height="12" fill="#ff4a00"/>
<rect x="485" y="253" width="1" height="14" fill="#ff0000"/>
<rect x="484" y="254" width="3" height="6" fill="#ff0000"/>
<rect x="485" y="255" width="1" height="4" fill="#ff4a00"/>
<rect x="489" y="248" width="1" height="11" fill="#ff0000"/>
<rect x="488" y="253" width="3" height="3" fill="#ff0000"/>
<rect x="489" y="254" width="1" height="1" fill="#ff4a00"/>
<rect x="493" y="248" width="1" height="14" fill="#ff0000"/>
<rect x="492" y="250" width="3" height="4" fill="#ff0000"/>
<rect x="493" y="251" width="1" height="2" fill="#ff4a00"/>
<rect x="497" y="233" width="1" height="23" fill="#ff0000"/>
<rect x="496" y="238" width="3" height="13" fill="#ff0000"/>
<rect x="497" y="239" width="1" height="11" fill="#ff4a00"/>
<rect x="501" y="230" width="1" height="21" fill="#22c822"/>
<rect x="500" y="238" width="3" height="12" fill="#2ecc2e"/>
<rect x="505" y="230" width="1" height="20" fill="#ff0000"/>
<rect x="504" y="244" width="3" height="6" fill="#ff0000"/>
<rect x="505" y="245" width="1" height="4" fill="#ff4a00"/>
<rect x="509" y="242" width="1" height="10" fill="#22c822"/>
<rect x="508" y="244" width="3" height="6" fill="#2ecc2e"/>
<rect x="513" y="245" width="1" height="9" fill="#22c822"/>
<rect x="512" y="249" width="3" height="2" fill="#2ecc2e"/>
<rect x="517" y="239" width="1" height="20" fill="#ff0000"/>
<rect x="516" y="245" width="3" height="7" fill="#ff0000"/>
<rect x="517" y="246" width="1" height="5" fill="#ff4a00"/>
<rect x="521" y="205" width="1" height="44" fill="#ff0000"/>
<rect x="520" y="207" width="3" height="38" fill="#ff0000"/>
<rect x="521" y="208" width="1" height="36" fill="#ff4a00"/>
<rect x="525" y="188" width="1" height="25" fill="#22c822"/>
<rect x="524" y="207" width="3" height="5" fill="#2ecc2e"/>
<rect x="529" y="162" width="1" height="55" fill="#ff0000"/>
<rect x="528" y="162" width="3" height="49" fill="#ff0000"/>
<rect x="529" y="163" width="1" height="47" fill="#ff4a00"/>
<rect x="533" y="161" width="1" height="12" fill="#22c822"/>
<rect x="532" y="162" width="3" height="8" fill="#2ecc2e"/>
<rect x="537" y="166" width="1" height="11" fill="#22c822"/>
<rect x="536" y="169" width="3" height="8" fill="#2ecc2e"/>
<rect x="541" y="172" width="1" height="13" fill="#ff0000"/>
<rect x="540" y="173" width="3" height="4" fill="#ff0000"/>
<rect x="541" y="174" width="1" height="2" fill="#ff4a00"/>
<rect x="545" y="171" width="1" height="19" fill="#22c822"/>
<rect x="544" y="173" width="3" height="5" fill="#2ecc2e"/>
<rect x="549" y="173" width="1" height="13" fill="#ff0000"/>
<rect x="548" y="173" width="3" height="5" fill="#ff0000"/>
<rect x="549" y="174" width="1" height="3" fill="#ff4a00"/>
<rect x="553" y="173" width="1" height="37" fill="#22c822"/>
<rect x="552" y="173" width="3" height="28" fill="#2ecc2e"/>
<rect x="557" y="199" width="1" height="22" fill="#22c822"/>
<rect x="556" y="200" width="3" height="15" fill="#2ecc2e"/>
<rect x="561" y="211" width="1" height="9" fill="#ff0000"/>
<rect x="560" y="214" width="3" height="1" fill="#ff0000"/>
<rect x="565" y="204" width="1" height="16" fill="#22c822"/>
<rect x="564" y="214" width="3" height="2" fill="#2ecc2e"/>
<rect x="569" y="211" width="1" height="13" fill="#22c822"/>
<rect x="568" y="215" width="3" height="1" fill="#2ecc2e"/>
<rect x="573" y="210" width="1" height="21" fill="#22c822"/>
<rect x="572" y="215" width="3" height="8" fill="#2ecc2e"/>
<rect x="577" y="218" width="1" height="25" fill="#22c822"/>
<rect x="576" y="222" width="3" height="14" fill="#2ecc2e"/>
<rect x="581" y="232" width="1" height="11" fill="#ff0000"/>
<rect x="580" y="233" width="3" height="2" fill="#ff0000"/>
<rect x="585" y="226" width="1" height="11" fill="#ff0000"/>
<rect x="584" y="229" width="3" height="5" fill="#ff0000"/>
<rect x="585" y="230" width="1" height="3" fill="#ff4a00"/>
<rect x="589" y="207" width="1" height="29" fill="#ff0000"/>
<rect x="588" y="210" width="3" height="20" fill="#ff0000"/>
<rect x="589" y="211" width="1" height="18" fill="#ff4a00"/>
<rect x="593" y="196" width="1" height="44" fill="#ff0000"/>
<rect x="592" y="207" width="3" height="4" fill="#ff0000"/>
<rect x="593" y="208" width="1" height="2" fill="#ff4a00"/>
<rect x="597" y="205" width="1" height="18" fill="#22c822"/>
<rect x="596" y="206" width="3" height="6" fill="#2ecc2e"/>
<rect x="601" y="208" width="1" height="32" fill="#22c822"/>
<rect x="600" y="211" width="3" height="3" fill="#2ecc2e"/>
<rect x="605" y="213" width="1" height="9" fill="#ff0000"/>
<rect x="604" y="217" width="3" height="2" fill="#ff0000"/>
<rect x="609" y="217" width="1" height="17" fill="#22c822"/>
<rect x="608" y="217" width="3" height="17" fill="#2ecc2e"/>
<rect x="613" y="228" width="1" height="12" fill="#ff0000"/>
<rect x="612" y="231" width="3" height="3" fill="#ff0000"/>
<rect x="613" y="232" width="1" height="1" fill="#ff4a00"/>
<rect x="617" y="217" width="1" height="18" fill="#ff0000"/>
<rect x="616" y="225" width="3" height="7" fill="#ff0000"/>
<rect x="617" y="226" width="1" height="5" fill="#ff4a00"/>
<rect x="621" y="208" width="1" height="20" fill="#ff0000"/>
<rect x="620" y="209" width="3" height="17" fill="#ff0000"/>
<rect x="621" y="210" width="1" height="15" fill="#ff4a00"/>
<rect x="625" y="203" width="1" height="14" fill="#ff0000"/>
<rect x="624" y="207" width="3" height="3" fill="#ff0000"/>
<rect x="625" y="208" width="1" height="1" fill="#ff4a00"/>
<rect x="629" y="192" width="1" height="16" fill="#ff0000"/>
<rect x="628" y="194" width="3" height="14" fill="#ff0000"/>
<rect x="629" y="195" width="1" height="12" fill="#ff4a00"/>
<rect x="633" y="193" width="1" height="11" fill="#22c822"/>
<rect x="632" y="194" width="3" height="7" fill="#2ecc2e"/>
<rect x="637" y="187" width="1" height="24" fill="#ff0000"/>
<rect x="636" y="196" width="3" height="5" fill="#ff0000"/>
<rect x="637" y="197" width="1" height="3" fill="#ff4a00"/>
<rect x="641" y="183" width="1" height="25" fill="#ff0000"/>
<rect x="640" y="187" width="3" height="10" fill="#ff0000"/>
<rect x="641" y="188" width="1" height="8" fill="#ff4a00"/>
<rect x="645" y="181" width="1" height="13" fill="#ff0000"/>
<rect x="644" y="183" width="3" height="5" fill="#ff0000"/>
<rect x="645" y="184" width="1" height="3" fill="#ff4a00"/>
<rect x="649" y="155" width="1" height="29" fill="#ff0000"/>
<rect x="648" y="172" width="3" height="12" fill="#ff0000"/>
<rect x="649" y="173" width="1" height="10" fill="#ff4a00"/>
<rect x="653" y="166" width="1" height="12" fill="#ff0000"/>
<rect x="652" y="170" width="3" height="3" fill="#ff0000"/>
<rect x="653" y="171" width="1" height="1" fill="#ff4a00"/>
<rect x="657" y="168" width="1" height="5" fill="#ff0000"/>
<rect x="656" y="168" width="3" height="3" fill="#ff0000"/>
<rect x="657" y="169" width="1" height="1" fill="#ff4a00"/>
<rect x="661" y="153" width="1" height="16" fill="#ff0000"/>
<rect x="660" y="156" width="3" height="13" fill="#ff0000"/>
<rect x="661" y="157" width="1" height="11" fill="#ff4a00"/>
<rect x="665" y="146" width="1" height="21" fill="#ff0000"/>
<rect x="664" y="148" width="3" height="9" fill="#ff0000"/>
<rect x="665" y="149" width="1" height="7" fill="#ff4a00"/>
<rect x="669" y="136" width="1" height="16" fill="#ff0000"/>
<rect x="668" y="137" width="3" height="12" fill="#ff0000"/>
<rect x="669" y="138" width="1" height="10" fill="#ff4a00"/>
<rect x="673" y="136" width="1" height="71" fill="#22c822"/>
<rect x="672" y="137" width="3" height="52" fill="#2ecc2e"/>
<rect x="677" y="179" width="1" height="15" fill="#ff0000"/>
<rect x="676" y="181" width="3" height="9" fill="#ff0000"/>
<rect x="677" y="182" width="1" height="7" fill="#ff4a00"/>
<rect x="681" y="181" width="1" height="14" fill="#22c822"/>
<rect x="680" y="181" width="3" height="9" fill="#2ecc2e"/>
<rect x="685" y="177" width="1" height="23" fill="#ff0000"/>
<rect x="684" y="179" width="3" height="12" fill="#ff0000"/>
<rect x="685" y="180" width="1" height="10" fill="#ff4a00"/>
<rect x="689" y="164" width="1" height="35" fill="#22c822"/>
<rect x="688" y="179" width="3" height="13" fill="#2ecc2e"/>
<rect x="693" y="177" width="1" height="15" fill="#ff0000"/>
<rect x="692" y="183" width="3" height="9" fill="#ff0000"/>
<rect x="693" y="184" width="1" height="7" fill="#ff4a00"/>
<rect x="697" y="178" width="1" height="19" fill="#22c822"/>
<rect x="696" y="183" width="3" height="3" fill="#2ecc2e"/>
<rect x="701" y="178" width="1" height="10" fill="#ff0000"/>
<rect x="700" y="181" width="3" height="7" fill="#ff0000"/>
<rect x="701" y="182" width="1" height="5" fill="#ff4a00"/>
<rect x="705" y="175" width="1" height="9" fill="#ff0000"/>
<rect x="704" y="179" width="3" height="3" fill="#ff0000"/>
<rect x="705" y="180" width="1" height="1" fill="#ff4a00"/>
<rect x="709" y="159" width="1" height="23" fill="#ff0000"/>
<rect x="708" y="163" width="3" height="18" fill="#ff0000"/>
<rect x="709" y="164" width="1" height="16" fill="#ff4a00"/>
<rect x="713" y="152" width="1" height="25" fill="#ff0000"/>
<rect x="712" y="159" width="3" height="5" fill="#ff0000"/>
<rect x="713" y="160" width="1" height="3" fill="#ff4a00"/>
<rect x="717" y="158" width="1" height="22" fill="#22c822"/>
<rect x="716" y="159" width="3" height="19" fill="#2ecc2e"/>
<rect x="721" y="163" width="1" height="22" fill="#22c822"/>
<rect x="720" y="177" width="3" height="1" fill="#2ecc2e"/>
<rect x="725" y="191" width="1" height="34" fill="#22c822"/>
<rect x="724" y="199" width="3" height="25" fill="#2ecc2e"/>
<rect x="729" y="218" width="1" height="14" fill="#22c822"/>
<rect x="728" y="223" width="3" height="8" fill="#2ecc2e"/>
<rect x="733" y="229" width="1" height="27" fill="#22c822"/>
<rect x="732" y="230" width="3" height="10" fill="#2ecc2e"/>
<rect x="737" y="231" width="1" height="23" fill="#22c822"/>
<rect x="736" y="238" width="3" height="9" fill="#2ecc2e"/>
<rect x="741" y="235" width="1" height="11" fill="#ff0000"/>
<rect x="740" y="238" width="3" height="7" fill="#ff0000"/>
<rect x="741" y="239" width="1" height="5" fill="#ff4a00"/>
<rect x="745" y="220" width="1" height="24" fill="#ff0000"/>
<rect x="744" y="224" width="3" height="15" fill="#ff0000"/>
<rect x="745" y="225" width="1" height="13" fill="#ff4a00"/>
<rect x="749" y="221" width="1" height="23" fill="#22c822"/>
<rect x="748" y="225" width="3" height="17" fill="#2ecc2e"/>
<rect x="753" y="239" width="1" height="10" fill="#22c822"/>
<rect x="752" y="241" width="3" height="6" fill="#2ecc2e"/>
<rect x="757" y="242" width="1" height="12" fill="#22c822"/>
<rect x="756" y="246" width="3" height="2" fill="#2ecc2e"/>
<rect x="761" y="223" width="1" height="29" fill="#ff0000"/>
<rect x="760" y="226" width="3" height="22" fill="#ff0000"/>
<rect x="761" y="227" width="1" height="20" fill="#ff4a00"/>
<rect x="765" y="224" width="1" height="6" fill="#22c822"/>
<rect x="764" y="225" width="3" height="3" fill="#2ecc2e"/>
<rect x="769" y="197" width="1" height="44" fill="#ff0000"/>
<rect x="768" y="203" width="3" height="25" fill="#ff0000"/>
<rect x="769" y="204" width="1" height="23" fill="#ff4a00"/>
<rect x="773" y="185" width="1" height="21" fill="#ff0000"/>
<rect x="772" y="185" width="3" height="19" fill="#ff0000"/>
<rect x="773" y="186" width="1" height="17" fill="#ff4a00"/>
<rect x="777" y="176" width="1" height="10" fill="#ff0000"/>
<rect x="776" y="181" width="3" height="5" fill="#ff0000"/>
<rect x="777" y="182" width="1" height="3" fill="#ff4a00"/>
<rect x="781" y="175" width="1" height="9" fill="#22c822"/>
<rect x="780" y="181" width="3" height="1" fill="#2ecc2e"/>
<rect x="785" y="177" width="1" height="12" fill="#22c822"/>
<rect x="784" y="181" width="3" height="1" fill="#2ecc2e"/>
<rect x="789" y="112" width="1" height="67" fill="#ff0000"/>
<rect x="788" y="125" width="3" height="54" fill="#ff0000"/>
<rect x="789" y="126" width="1" height="52" fill="#ff4a00"/>
<rect x="793" y="118" width="1" height="17" fill="#ff0000"/>
<rect x="792" y="120" width="3" height="6" fill="#ff0000"/>
<rect x="793" y="121" width="1" height="4" fill="#ff4a00"/>
<rect x="797" y="116" width="1" height="25" fill="#ff0000"/>
<rect x="796" y="116" width="3" height="6" fill="#ff0000"/>
<rect x="797" y="117" width="1" height="4" fill="#ff4a00"/>
<rect x="801" y="108" width="1" height="11" fill="#ff0000"/>
<rect x="800" y="112" width="3" height="5" fill="#ff0000"/>
<rect x="801" y="113" width="1" height="3" fill="#ff4a00"/>
<rect x="805" y="85" width="1" height="30" fill="#ff0000"/>
<rect x="804" y="89" width="3" height="24" fill="#ff0000"/>
<rect x="805" y="90" width="1" height="22" fill="#ff4a00"/>
<rect x="809" y="86" width="1" height="31" fill="#22c822"/>
<rect x="808" y="89" width="3" height="18" fill="#2ecc2e"/>
<rect x="813" y="96" width="1" height="14" fill="#ff0000"/>
<rect x="812" y="97" width="3" height="11" fill="#ff0000"/>
<rect x="813" y="98" width="1" height="9" fill="#ff4a00"/>
<rect x="817" y="87" width="1" height="38" fill="#22c822"/>
<rect x="816" y="98" width="3" height="19" fill="#2ecc2e"/>
<rect x="821" y="113" width="1" height="18" fill="#ff0000"/>
<rect x="820" y="115" width="3" height="2" fill="#ff0000"/>
<rect x="825" y="114" width="1" height="5" fill="#22c822"/>
<rect x="824" y="116" width="3" height="2" fill="#2ecc2e"/>
<rect x="829" y="113" width="1" height="10" fill="#ff0000"/>
<rect x="828" y="114" width="3" height="3" fill="#ff0000"/>
<rect x="829" y="115" width="1" height="1" fill="#ff4a00"/>
<rect x="833" y="112" width="1" height="88" fill="#22c822"/>
<rect x="832" y="115" width="3" height="77" fill="#2ecc2e"/>
<rect x="837" y="175" width="1" height="17" fill="#ff0000"/>
<rect x="836" y="176" width="3" height="16" fill="#ff0000"/>
<rect x="837" y="177" width="1" height="14" fill="#ff4a00"/>
<rect x="841" y="164" width="1" height="19" fill="#22c822"/>
<rect x="840" y="176" width="3" height="7" fill="#2ecc2e"/>
<rect x="845" y="152" width="1" height="22" fill="#22c822"/>
<rect x="844" y="155" width="3" height="19" fill="#2ecc2e"/>
<rect x="849" y="167" width="1" height="10" fill="#ff0000"/>
<rect x="848" y="168" width="3" height="6" fill="#ff0000"/>
<rect x="849" y="169" width="1" height="4" fill="#ff4a00"/>
<rect x="853" y="157" width="1" height="15" fill="#ff0000"/>
<rect x="852" y="164" width="3" height="5" fill="#ff0000"/>
<rect x="853" y="165" width="1" height="3" fill="#ff4a00"/>
<rect x="857" y="135" width="1" height="35" fill="#ff0000"/>
<rect x="856" y="138" width="3" height="27" fill="#ff0000"/>
<rect x="857" y="139" width="1" height="25" fill="#ff4a00"/>
<rect x="861" y="114" width="1" height="28" fill="#ff0000"/>
<rect x="860" y="116" width="3" height="25" fill="#ff0000"/>
<rect x="861" y="117" width="1" height="23" fill="#ff4a00"/>
<rect x="865" y="102" width="1" height="21" fill="#ff0000"/>
<rect x="864" y="105" width="3" height="12" fill="#ff0000"/>
<rect x="865" y="106" width="1" height="10" fill="#ff4a00"/>
<rect x="869" y="104" width="1" height="14" fill="#22c822"/>
<rect x="868" y="104" width="3" height="9" fill="#2ecc2e"/>
<rect x="873" y="108" width="1" height="8" fill="#ff0000"/>
<rect x="872" y="110" width="3" height="3" fill="#ff0000"/>
<rect x="873" y="111" width="1" height="1" fill="#ff4a00"/>
<rect x="877" y="99" width="1" height="15" fill="#22c822"/>
<rect x="876" y="110" width="3" height="3" fill="#2ecc2e"/>
<rect x="881" y="106" width="1" height="20" fill="#22c822"/>
<rect x="880" y="112" width="3" height="1" fill="#2ecc2e"/>
<rect x="885" y="103" width="1" height="15" fill="#ff0000"/>
<rect x="884" y="104" width="3" height="9" fill="#ff0000"/>
<rect x="885" y="105" width="1" height="7" fill="#ff4a00"/>
<rect x="889" y="97" width="1" height="23" fill="#22c822"/>
<rect x="888" y="103" width="3" height="11" fill="#2ecc2e"/>
<rect x="893" y="107" width="1" height="23" fill="#22c822"/>
<rect x="892" y="115" width="3" height="14" fill="#2ecc2e"/>
<rect x="897" y="125" width="1" height="4" fill="#ff0000"/>
<rect x="896" y="127" width="3" height="2" fill="#ff0000"/>
<rect x="901" y="121" width="1" height="10" fill="#ff0000"/>
<rect x="900" y="126" width="3" height="2" fill="#ff0000"/>
<rect x="905" y="122" width="1" height="26" fill="#22c822"/>
<rect x="904" y="126" width="3" height="19" fill="#2ecc2e"/>
<rect x="909" y="140" width="1" height="19" fill="#22c822"/>
<rect x="908" y="145" width="3" height="8" fill="#2ecc2e"/>
<rect x="913" y="135" width="1" height="24" fill="#ff0000"/>
<rect x="912" y="141" width="3" height="12" fill="#ff0000"/>
<rect x="913" y="142" width="1" height="10" fill="#ff4a00"/>
<rect x="917" y="127" width="1" height="20" fill="#ff0000"/>
<rect x="916" y="138" width="3" height="4" fill="#ff0000"/>
<rect x="917" y="139" width="1" height="2" fill="#ff4a00"/>
<rect x="921" y="135" width="1" height="8" fill="#22c822"/>
<rect x="920" y="139" width="3" height="3" fill="#2ecc2e"/>
<rect x="925" y="136" width="1" height="11" fill="#ff0000"/>
<rect x="924" y="137" width="3" height="5" fill="#ff0000"/>
<rect x="925" y="138" width="1" height="3" fill="#ff4a00"/>
<rect x="929" y="121" width="1" height="17" fill="#ff0000"/>
<rect x="928" y="128" width="3" height="10" fill="#ff0000"/>
<rect x="929" y="129" width="1" height="8" fill="#ff4a00"/>
<rect x="933" y="124" width="1" height="17" fill="#22c822"/>
<rect x="932" y="128" width="3" height="12" fill="#2ecc2e"/>
<rect x="937" y="131" width="1" height="19" fill="#ff0000"/>
<rect x="936" y="139" width="3" height="1" fill="#ff0000"/>
<rect x="941" y="128" width="1" height="16" fill="#ff0000"/>
<rect x="940" y="129" width="3" height="10" fill="#ff0000"/>
<rect x="941" y="130" width="1" height="8" fill="#ff4a00"/>
<rect x="945" y="126" width="1" height="6" fill="#ff0000"/>
<rect x="944" y="128" width="3" height="2" fill="#ff0000"/>
<rect x="949" y="111" width="1" height="18" fill="#ff0000"/>
<rect x="948" y="121" width="3" height="8" fill="#ff0000"/>
<rect x="949" y="122" width="1" height="6" fill="#ff4a00"/>
<rect x="953" y="114" width="1" height="15" fill="#22c822"/>
<rect x="952" y="120" width="3" height="1" fill="#2ecc2e"/>
<rect x="957" y="120" width="1" height="11" fill="#22c822"/>
<rect x="956" y="120" width="3" height="11" fill="#2ecc2e"/>
<rect x="961" y="118" width="1" height="13" fill="#ff0000"/>
<rect x="960" y="128" width="3" height="2" fill="#ff0000"/>
<rect x="965" y="121" width="1" height="8" fill="#22c822"/>
<rect x="964" y="123" width="3" height="4" fill="#2ecc2e"/>
<rect x="969" y="121" width="1" height="7" fill="#ff0000"/>
<rect x="968" y="122" width="3" height="5" fill="#ff0000"/>
<rect x="969" y="123" width="1" height="3" fill="#ff4a00"/>
<rect x="973" y="121" width="1" height="8" fill="#ff0000"/>
<rect x="972" y="122" width="3" height="1" fill="#ff0000"/>
<rect x="977" y="110" width="1" height="15" fill="#ff0000"/>
<rect x="976" y="112" width="3" height="11" fill="#ff0000"/>
<rect x="977" y="113" width="1" height="9" fill="#ff4a00"/>
<rect x="981" y="107" width="1" height="21" fill="#22c822"/>
<rect x="980" y="111" width="3" height="16" fill="#2ecc2e"/>
<rect x="985" y="105" width="1" height="22" fill="#ff0000"/>
<rect x="984" y="107" width="3" height="20" fill="#ff0000"/>
<rect x="985" y="108" width="1" height="18" fill="#ff4a00"/>
<rect x="989" y="99" width="1" height="12" fill="#ff0000"/>
<rect x="988" y="107" width="3" height="1" fill="#ff0000"/>
<rect x="993" y="103" width="1" height="14" fill="#22c822"/>
<rect x="992" y="107" width="3" height="4" fill="#2ecc2e"/>
<rect x="997" y="103" width="1" height="13" fill="#ff0000"/>
<rect x="996" y="109" width="3" height="2" fill="#ff0000"/>
<rect x="1001" y="94" width="1" height="24" fill="#ff0000"/>
<rect x="1000" y="101" width="3" height="9" fill="#ff0000"/>
<rect x="1001" y="102" width="1" height="7" fill="#ff4a00"/>
<rect x="1005" y="85" width="1" height="21" fill="#ff0000"/>
<rect x="1004" y="85" width="3" height="17" fill="#ff0000"/>
<rect x="1005" y="86" width="1" height="15" fill="#ff4a00"/>
<rect x="1009" y="54" width="1" height="36" fill="#ff0000"/>
<rect x="1008" y="56" width="3" height="30" fill="#ff0000"/>
<rect x="1009" y="57" width="1" height="28" fill="#ff4a00"/>
<rect x="1013" y="56" width="1" height="28" fill="#22c822"/>
<rect x="1012" y="56" width="3" height="25" fill="#2ecc2e"/>
<rect x="1017" y="76" width="1" height="8" fill="#ff0000"/>
<rect x="1016" y="78" width="3" height="3" fill="#ff0000"/>
<rect x="1017" y="79" width="1" height="1" fill="#ff4a00"/>
<rect x="1021" y="62" width="1" height="18" fill="#ff0000"/>
<rect x="1020" y="73" width="3" height="6" fill="#ff0000"/>
<rect x="1021" y="74" width="1" height="4" fill="#ff4a00"/>
<rect x="1025" y="71" width="1" height="23" fill="#22c822"/>
<rect x="1024" y="73" width="3" height="18" fill="#2ecc2e"/>
<rect x="1029" y="90" width="1" height="13" fill="#22c822"/>
<rect x="1028" y="90" width="3" height="13" fill="#2ecc2e"/>
<rect x="1033" y="52" width="1" height="51" fill="#ff0000"/>
<rect x="1032" y="55" width="3" height="48" fill="#ff0000"/>
<rect x="1033" y="56" width="1" height="46" fill="#ff4a00"/>
<rect x="1037" y="50" width="1" height="19" fill="#22c822"/>
<rect x="1036" y="55" width="3" height="12" fill="#2ecc2e"/>
</g>
<rect x="1000" y="48" width="174" height="2" fill="#ff0000"/>
<rect x="817" y="119" width="339" height="2" fill="#00ff00"/>
<rect x="906" y="156" width="256" height="2" fill="#0000ff"/>
<g shape-rendering="crispEdges">
<rect x="5" y="401" width="1" height="27" fill="#c0c0c0"/>
<rect x="9" y="402" width="1" height="26" fill="#c0c0c0"/>
<rect x="13" y="402" width="1" height="26" fill="#c0c0c0"/>
<rect x="17" y="403" width="1" height="25" fill="#c0c0c0"/>
<rect x="21" y="403" width="1" height="25" fill="#c0c0c0"/>
<rect x="25" y="402" width="1" height="26" fill="#c0c0c0"/>
<rect x="29" y="405" width="1" height="23" fill="#c0c0c0"/>
<rect x="33" y="406" width="1" height="22" fill="#c0c0c0"/>
<rect x="37" y="407" width="1" height="21" fill="#c0c0c0"/>
<rect x="41" y="407" width="1" height="21" fill="#c0c0c0"/>
<rect x="45" y="408" width="1" height="20" fill="#c0c0c0"/>
<rect x="49" y="410" width="1" height="18" fill="#c0c0c0"/>
<rect x="53" y="412" width="1" height="16" fill="#c0c0c0"/>
<rect x="57" y="414" width="1" height="14" fill="#c0c0c0"/>
<rect x="61" y="415" width="1" height="13" fill="#c0c0c0"/>
<rect x="65" y="416" width="1" height="12" fill="#c0c0c0"/>
<rect x="69" y="424" width="1" height="4" fill="#c0c0c0"/>
<rect x="73" y="426" width="1" height="2" fill="#c0c0c0"/>
<rect x="77" y="427" width="1" height="1" fill="#c0c0c0"/>
<rect x="81" y="428" width="1" height="3" fill="#c0c0c0"/>
<rect x="85" y="428" width="1" height="6" fill="#c0c0c0"/>
<rect x="89" y="428" width="1" height="3" fill="#c0c0c0"/>
<rect x="93" y="428" width="1" height="1" fill="#c0c0c0"/>
<rect x="105" y="424" width="1" height="4" fill="#c0c0c0"/>
<rect x="109" y="419" width="1" height="9" fill="#c0c0c0"/>
<rect x="113" y="415" width="1" height="13" fill="#c0c0c0"/>
<rect x="117" y="416" width="1" height="12" fill="#c0c0c0"/>
<rect x="121" y="417" width="1" height="11" fill="#c0c0c0"/>
<rect x="125" y="417" width="1" height="11" fill="#c0c0c0"/>
<rect x="129" y="417" width="1" height="11" fill="#c0c0c0"/>
<rect x="133" y="418" width="1" height="10" fill="#c0c0c0"/>
<rect x="137" y="416" width="1" height="12" fill="#c0c0c0"/>
<rect x="141" y="416" width="1" height="12" fill="#c0c0c0"/>
<rect x="145" y="414" width="1" height="14" fill="#c0c0c0"/>
<rect x="149" y="415" width="1" height="13" fill="#c0c0c0"/>
<rect x="153" y="415" width="1" height="13" fill="#c0c0c0"/>
<rect x="157" y="415" width="1" height="13" fill="#c0c0c0"/>
<rect x="161" y="415" width="1" height="13" fill="#c0c0c0"/>
<rect x="165" y="416" width="1" height="12" fill="#c0c0c0"/>
<rect x="169" y="416" width="1" height="12" fill="#c0c0c0"/>
<rect x="173" y="416" width="1" height="12" fill="#c0c0c0"/>
<rect x="177" y="416" width="1" height="12" fill="#c0c0c0"/>
<rect x="181" y="416" width="1" height="12" fill="#c0c0c0"/>
<rect x="185" y="416" width="1" height="12" fill="#c0c0c0"/>
<rect x="189" y="416" width="1" height="12" fill="#c0c0c0"/>
<rect x="193" y="416" width="1" height="12" fill="#c0c0c0"/>
<rect x="197" y="415" width="1" height="13" fill="#c0c0c0"/>
<rect x="201" y="415" width="1" height="13" fill="#c0c0c0"/>
<rect x="205" y="419" width="1" height="9" fill="#c0c0c0"/>
<rect x="209" y="423" width="1" height="5" fill="#c0c0c0"/>
<rect x="213" y="425" width="1" height="3" fill="#c0c0c0"/>
<rect x="217" y="427" width="1" height="1" fill="#c0c0c0"/>
<rect x="225" y="428" width="1" height="2" fill="#c0c0c0"/>
<rect x="229" y="428" width="1" height="5" fill="#c0c0c0"/>
<rect x="233" y="428" width="1" height="5" fill="#c0c0c0"/>
<rect x="237" y="428" width="1" height="3" fill="#c0c0c0"/>
<rect x="241" y="428" width="1" height="2" fill="#c0c0c0"/>
<rect x="245" y="428" width="1" height="2" fill="#c0c0c0"/>
<rect x="249" y="428" width="1" height="2" fill="#c0c0c0"/>
<rect x="253" y="428" width="1" height="3" fill="#c0c0c0"/>
<rect x="257" y="428" width="1" height="3" fill="#c0c0c0"/>
<rect x="261" y="428" width="1" height="3" fill="#c0c0c0"/>
<rect x="265" y="428" width="1" height="3" fill="#c0c0c0"/>
<rect x="269" y="428" width="1" height="2" fill="#c0c0c0"/>
<rect x="273" y="428" width="1" height="1" fill="#c0c0c0"/>
<rect x="281" y="426" width="1" height="2" fill="#c0c0c0"/>
<rect x="285" y="426" width="1" height="2" fill="#c0c0c0"/>
<rect x="289" y="424" width="1" height="4" fill="#c0c0c0"/>
<rect x="293" y="422" width="1" height="6" fill="#c0c0c0"/>
<rect x="297" y="422" width="1" height="6" fill="#c0c0c0"/>
<rect x="301" y="426" width="1" height="2" fill="#c0c0c0"/>
<rect x="305" y="427" width="1" height="1" fill="#c0c0c0"/>
<rect x="309" y="427" width="1" height="1" fill="#c0c0c0"/>
<rect x="313" y="427" width="1" height="1" fill="#c0c0c0"/>
<rect x="317" y="427" width="1" height="1" fill="#c0c0c0"/>
<rect x="321" y="427" width="1" height="1" fill="#c0c0c0"/>
<rect x="325" y="427" width="1" height="1" fill="#c0c0c0"/>
<rect x="329" y="427" width="1" height="1" fill="#c0c0c0"/>
<rect x="333" y="427" width="1" height="1" fill="#c0c0c0"/>
<rect x="337" y="424" width="1" height="4" fill="#c0c0c0"/>
<rect x="341" y="420" width="1" height="8" fill="#c0c0c0"/>
<rect x="345" y="417" width="1" height="11" fill="#c0c0c0"/>
<rect x="349" y="413" width="1" height="15" fill="#c0c0c0"/>
<rect x="353" y="410" width="1" height="18" fill="#c0c0c0"/>
<rect x="357" y="409" width="1" height="19" fill="#c0c0c0"/>
<rect x="361" y="407" width="1" height="21" fill="#c0c0c0"/>
<rect x="365" y="407" width="1" height="21" fill="#c0c0c0"/>
<rect x="369" y="406" width="1" height="22" fill="#c0c0c0"/>
<rect x="373" y="405" width="1" height="23" fill="#c0c0c0"/>
<rect x="377" y="405" width="1" height="23" fill="#c0c0c0"/>
<rect x="381" y="404" width="1" height="24" fill="#c0c0c0"/>
<rect x="385" y="404" width="1" height="24" fill="#c0c0c0"/>
<rect x="389" y="402" width="1" height="26" fill="#c0c0c0"/>
<rect x="393" y="402" width="1" height="26" fill="#c0c0c0"/>
<rect x="397" y="402" width="1" height="26" fill="#c0c0c0"/>
<rect x="401" y="402" width="1" height="26" fill="#c0c0c0"/>
<rect x="405" y="401" width="1" height="27" fill="#c0c0c0"/>
<rect x="409" y="401" width="1" height="27" fill="#c0c0c0"/>
<rect x="413" y="401" width="1" height="27" fill="#c0c0c0"/>
<rect x="417" y="403" width="1" height="25" fill="#c0c0c0"/>
<rect x="421" y="405" width="1" height="23" fill="#c0c0c0"/>
<rect x="425" y="407" width="1" height="21" fill="#c0c0c0"/>
<rect x="429" y="408" width="1" height="20" fill="#c0c0c0"/>
<rect x="433" y="410" width="1" height="18" fill="#c0c0c0"/>
<rect x="437" y="411" width="1" height="17" fill="#c0c0c0"/>
<rect x="441" y="412" width="1" height="16" fill="#c0c0c0"/>
<rect x="445" y="413" width="1" height="15" fill="#c0c0c0"/>
<rect x="449" y="414" width="1" height="14" fill="#c0c0c0"/>
<rect x="453" y="416" width="1" height="12" fill="#c0c0c0"/>
<rect x="457" y="421" width="1" height="7" fill="#c0c0c0"/>
<rect x="461" y="426" width="1" height="2" fill="#c0c0c0"/>
<rect x="465" y="427" width="1" height="1" fill="#c0c0c0"/>
<rect x="469" y="428" width="1" height="3" fill="#c0c0c0"/>
<rect x="473" y="428" width="1" height="7" fill="#c0c0c0"/>
<rect x="477" y="428" width="1" height="10" fill="#c0c0c0"/>
<rect x="481" y="428" width="1" height="10" fill="#c0c0c0"/>
<rect x="485" y="428" width="1" height="11" fill="#c0c0c0"/>
<rect x="489" y="428" width="1" height="10" fill="#c0c0c0"/>
<rect x="493" y="428" width="1" height="9" fill="#c0c0c0"/>
<rect x="497" y="428" width="1" height="8" fill="#c0c0c0"/>
<rect x="501" y="428" width="1" height="8" fill="#c0c0c0"/>
<rect x="505" y="428" width="1" height="7" fill="#c0c0c0"/>
<rect x="509" y="428" width="1" height="7" fill="#c0c0c0"/>
<rect x="513" y="428" width="1" height="7" fill="#c0c0c0"/>
<rect x="517" y="428" width="1" height="6" fill="#c0c0c0"/>
<rect x="525" y="426" width="1" height="2" fill="#c0c0c0"/>
<rect x="529" y="417" width="1" height="11" fill="#c0c0c0"/>
<rect x="533" y="411" width="1" height="17" fill="#c0c0c0"/>
<rect x="537" y="407" width="1" height="21" fill="#c0c0c0"/>
<rect x="541" y="404" width="1" height="24" fill="#c0c0c0"/>
<rect x="545" y="403" width="1" height="25" fill="#c0c0c0"/>
<rect x="549" y="401" width="1" height="27" fill="#c0c0c0"/>
<rect x="553" y="404" width="1" height="24" fill="#c0c0c0"/>
<rect x="557" y="408" width="1" height="20" fill="#c0c0c0"/>
<rect x="561" y="411" width="1" height="17" fill="#c0c0c0"/>
<rect x="565" y="414" width="1" height="14" fill="#c0c0c0"/>
<rect x="569" y="416" width="1" height="12" fill="#c0c0c0"/>
<rect x="573" y="419" width="1" height="9" fill="#c0c0c0"/>
<rect x="577" y="423" width="1" height="5" fill="#c0c0c0"/>
<rect x="581" y="426" width="1" height="2" fill="#c0c0c0"/>
<rect x="589" y="427" width="1" height="1" fill="#c0c0c0"/>
<rect x="593" y="426" width="1" height="2" fill="#c0c0c0"/>
<rect x="597" y="426" width="1" height="2" fill="#c0c0c0"/>
<rect x="601" y="426" width="1" height="2" fill="#c0c0c0"/>
<rect x="605" y="426" width="1" height="2" fill="#c0c0c0"/>
<rect x="613" y="428" width="1" height="1" fill="#c0c0c0"/>
<rect x="617" y="428" width="1" height="2" fill="#c0c0c0"/>
<rect x="629" y="425" width="1" height="3" fill="#c0c0c0"/>
<rect x="633" y="424" width="1" height="4" fill="#c0c0c0"/>
<rect x="637" y="422" width="1" height="6" fill="#c0c0c0"/>
<rect x="641" y="420" width="1" height="8" fill="#c0c0c0"/>
<rect x="645" y="418" width="1" height="10" fill="#c0c0c0"/>
<rect x="649" y="415" width="1" height="13" fill="#c0c0c0"/>
<rect x="653" y="413" width="1" height="15" fill="#c0c0c0"/>
<rect x="657" y="411" width="1" height="17" fill="#c0c0c0"/>
<rect x="661" y="408" width="1" height="20" fill="#c0c0c0"/>
<rect x="665" y="405" width="1" height="23" fill="#c0c0c0"/>
<rect x="669" y="402" width="1" height="26" fill="#c0c0c0"/>
<rect x="673" y="406" width="1" height="22" fill="#c0c0c0"/>
<rect x="677" y="409" width="1" height="19" fill="#c0c0c0"/>
<rect x="681" y="411" width="1" height="17" fill="#c0c0c0"/>
<rect x="685" y="413" width="1" height="15" fill="#c0c0c0"/>
<rect x="689" y="415" width="1" height="13" fill="#c0c0c0"/>
<rect x="693" y="417" width="1" height="11" fill="#c0c0c0"/>
<rect x="697" y="418" width="1" height="10" fill="#c0c0c0"/>
<rect x="701" y="419" width="1" height="9" fill="#c0c0c0"/>
<rect x="705" y="419" width="1" height="9" fill="#c0c0c0"/>
<rect x="709" y="418" width="1" height="10" fill="#c0c0c0"/>
<rect x="713" y="416" width="1" height="12" fill="#c0c0c0"/>
<rect x="717" y="417" width="1" height="11" fill="#c0c0c0"/>
<rect x="721" y="418" width="1" height="10" fill="#c0c0c0"/>
<rect x="725" y="425" width="1" height="3" fill="#c0c0c0"/>
<rect x="729" y="428" width="1" height="2" fill="#c0c0c0"/>
<rect x="733" y="428" width="1" height="8" fill="#c0c0c0"/>
<rect x="737" y="428" width="1" height="11" fill="#c0c0c0"/>
<rect x="741" y="428" width="1" height="13" fill="#c0c0c0"/>
<rect x="745" y="428" width="1" height="16" fill="#c0c0c0"/>
<rect x="749" y="428" width="1" height="19" fill="#c0c0c0"/>
<rect x="753" y="428" width="1" height="21" fill="#c0c0c0"/>
<rect x="757" y="428" width="1" height="22" fill="#c0c0c0"/>
<rect x="761" y="428" width="1" height="20" fill="#c0c0c0"/>
<rect x="765" y="428" width="1" height="19" fill="#c0c0c0"/>
<rect x="769" y="428" width="1" height="15" fill="#c0c0c0"/>
<rect x="773" y="428" width="1" height="9" fill="#c0c0c0"/>
<rect x="777" y="428" width="1" height="4" fill="#c0c0c0"/>
<rect x="785" y="426" width="1" height="2" fill="#c0c0c0"/>
<rect x="789" y="417" width="1" height="11" fill="#c0c0c0"/>
<rect x="793" y="409" width="1" height="19" fill="#c0c0c0"/>
<rect x="797" y="403" width="1" height="25" fill="#c0c0c0"/>
<rect x="801" y="398" width="1" height="30" fill="#c0c0c0"/>
<rect x="805" y="391" width="1" height="37" fill="#c0c0c0"/>
<rect x="809" y="388" width="1" height="40" fill="#c0c0c0"/>
<rect x="813" y="386" width="1" height="42" fill="#c0c0c0"/>
<rect x="817" y="386" width="1" height="42" fill="#c0c0c0"/>
<rect x="821" y="387" width="1" height="41" fill="#c0c0c0"/>
<rect x="825" y="389" width="1" height="39" fill="#c0c0c0"/>
<rect x="829" y="391" width="1" height="37" fill="#c0c0c0"/>
<rect x="833" y="401" width="1" height="27" fill="#c0c0c0"/>
<rect x="837" y="408" width="1" height="20" fill="#c0c0c0"/>
<rect x="841" y="414" width="1" height="14" fill="#c0c0c0"/>
<rect x="845" y="418" width="1" height="10" fill="#c0c0c0"/>
<rect x="849" y="421" width="1" height="7" fill="#c0c0c0"/>
<rect x="853" y="422" width="1" height="6" fill="#c0c0c0"/>
<rect x="857" y="421" width="1" height="7" fill="#c0c0c0"/>
<rect x="861" y="417" width="1" height="11" fill="#c0c0c0"/>
<rect x="865" y="412" width="1" height="16" fill="#c0c0c0"/>
<rect x="869" y="410" width="1" height="18" fill="#c0c0c0"/>
<rect x="873" y="408" width="1" height="20" fill="#c0c0c0"/>
<rect x="877" y="407" width="1" height="21" fill="#c0c0c0"/>
<rect x="881" y="407" width="1" height="21" fill="#c0c0c0"/>
<rect x="885" y="406" width="1" height="22" fill="#c0c0c0"/>
<rect x="889" y="406" width="1" height="22" fill="#c0c0c0"/>
<rect x="893" y="408" width="1" height="20" fill="#c0c0c0"/>
<rect x="897" y="410" width="1" height="18" fill="#c0c0c0"/>
<rect x="901" y="412" width="1" height="16" fill="#c0c0c0"/>
<rect x="905" y="416" width="1" height="12" fill="#c0c0c0"/>
<rect x="909" y="420" width="1" height="8" fill="#c0c0c0"/>
<rect x="913" y="422" width="1" height="6" fill="#c0c0c0"/>
<rect x="917" y="423" width="1" height="5" fill="#c0c0c0"/>
<rect x="921" y="424" width="1" height="4" fill="#c0c0c0"/>
<rect x="925" y="425" width="1" height="3" fill="#c0c0c0"/>
<rect x="929" y="424" width="1" height="4" fill="#c0c0c0"/>
<rect x="933" y="425" width="1" height="3" fill="#c0c0c0"/>
<rect x="937" y="426" width="1" height="2" fill="#c0c0c0"/>
<rect x="941" y="425" width="1" height="3" fill="#c0c0c0"/>
<rect x="945" y="425" width="1" height="3" fill="#c0c0c0"/>
<rect x="949" y="423" width="1" height="5" fill="#c0c0c0"/>
<rect x="953" y="422" width="1" height="6" fill="#c0c0c0"/>
<rect x="957" y="423" width="1" height="5" fill="#c0c0c0"/>
<rect x="961" y="423" width="1" height="5" fill="#c0c0c0"/>
<rect x="965" y="423" width="1" height="5" fill="#c0c0c0"/>
<rect x="969" y="423" width="1" height="5" fill="#c0c0c0"/>
<rect x="973" y="422" width="1" height="6" fill="#c0c0c0"/>
<rect x="977" y="421" width="1" height="7" fill="#c0c0c0"/>
<rect x="981" y="421" width="1" height="7" fill="#c0c0c0"/>
<rect x="985" y="420" width="1" height="8" fill="#c0c0c0"/>
<rect x="989" y="419" width="1" height="9" fill="#c0c0c0"/>
<rect x="993" y="418" width="1" height="10" fill="#c0c0c0"/>
<rect x="997" y="418" width="1" height="10" fill="#c0c0c0"/>
<rect x="1001" y="417" width="1" height="11" fill="#c0c0c0"/>
<rect x="1005" y="414" width="1" height="14" fill="#c0c0c0"/>
<rect x="1009" y="409" width="1" height="19" fill="#c0c0c0"/>
<rect x="1013" y="407" width="1" height="21" fill="#c0c0c0"/>
<rect x="1017" y="406" width="1" height="22" fill="#c0c0c0"/>
<rect x="1021" y="405" width="1" height="23" fill="#c0c0c0"/>
<rect x="1025" y="407" width="1" height="21" fill="#c0c0c0"/>
<rect x="1029" y="409" width="1" height="19" fill="#c0c0c0"/>
<rect x="1033" y="406" width="1" height="22" fill="#c0c0c0"/>
<rect x="1037" y="405" width="1" height="23" fill="#c0c0c0"/>
<polyline points="4.5,407.6 11.9,405.4 17.8,404.6 23.8,402.4 32.7,402.1 43.1,403.2 49.0,405.4 54.9,406.6 60.9,408.4 66.8,410.6 72.7,413.5 78.7,417.3 84.6,421.7 90.5,424.7 96.5,427.6 102.4,429.4 108.3,428.4 114.3,426.2 120.2,423.5 126.1,421.0 132.1,418.4 138.0,417.3 144.0,415.5 201.8,415.5 204.9,416.5 210.9,416.5 216.8,418.0 222.7,420.5 228.7,422.9 234.6,425.9 240.5,428.8 246.5,430.3 252.4,431.4 267.2,431.4 270.2,431.0 276.2,430.3 282.1,429.4 288.0,428.4 294.0,426.9 299.9,425.4 317.7,425.4 323.6,426.2 329.6,426.5 335.5,427.3 341.4,426.5 347.4,423.9 353.3,421.0 359.2,418.0 365.2,414.0 371.1,410.6 377.0,408.1 383.0,405.7 388.9,404.2 397.8,403.2 406.9,401.2 420.2,401.2 426.2,402.1 432.1,403.2 438.0,404.6 444.0,406.9 449.9,408.6 455.8,411.6 461.8,414.6 467.7,417.6 473.6,421.7 479.6,425.9 485.5,430.6 491.4,434.3 497.4,436.2 504.8,437.3 510.7,437.3 516.7,436.2 522.6,434.8 528.5,431.4 534.5,427.3 540.4,422.4 546.3,417.3 552.3,411.6 558.2,407.6 564.1,406.1 570.1,407.2 576.0,409.1 581.9,413.5 587.9,417.3 593.5,420.4 599.9,422.9 605.8,424.4 611.8,426.2 617.7,427.3 629.6,427.3 635.5,426.5 641.4,425.4 647.4,423.2 653.3,421.0 659.2,417.0 665.2,414.0 671.1,410.6 677.1,408.4 684.5,407.6 690.4,408.4 696.3,409.5 702.3,411.6 708.2,414.0 714.1,415.5 720.1,417.0 726.0,418.4 732.0,420.5 737.9,425.0 743.8,429.4 749.8,433.9 755.7,438.8 761.6,443.2 767.6,446.2 773.5,445.7 779.4,443.2 786.9,438.7 792.9,432.7 798.9,423.0 804.8,415.9 810.7,407.4 816.7,400.8 822.6,394.8 828.5,390.4 837.4,391.1 843.4,394.8 849.3,400.8 855.2,406.7 861.2,411.9 867.1,414.9 873.1,415.6 879.0,413.8 884.9,411.2 890.9,408.5 896.8,407.4 902.7,407.4 908.7,409.4 914.6,411.9 920.5,414.9 926.5,417.8 932.4,420.1 938.3,422.7 944.3,423.3 971.0,423.3 976.9,422.3 985.6,421.3 993.5,420.3 999.5,419.4 1005.5,417.5 1011.5,415.3 1017.5,413.5 1023.0,411.0 1029.6,409.4 1035.6,407.3 1037.6,407.0" fill="none" stroke="#ff0000" stroke-width="1" stroke-dasharray="3 3"/>
</g>
<text x="9" y="393" font-size="10" fill="#000" text-anchor="start" font-weight="normal"  textLength="148" lengthAdjust="spacingAndGlyphs">MACD(12,26,9) 0.002487 0.002232</text>
<g shape-rendering="crispEdges">
<rect x="6" y="485" width="3" height="1" fill="#c0c0c0"/>
<rect x="12" y="485" width="3" height="1" fill="#c0c0c0"/>
<rect x="18" y="485" width="3" height="1" fill="#c0c0c0"/>
<rect x="24" y="485" width="3" height="1" fill="#c0c0c0"/>
<rect x="30" y="485" width="3" height="1" fill="#c0c0c0"/>
<rect x="36" y="485" width="3" height="1" fill="#c0c0c0"/>
<rect x="42" y="485" width="3" height="1" fill="#c0c0c0"/>
<rect x="48" y="485" width="3" height="1" fill="#c0c0c0"/>
<rect x="54" y="485" width="3" height="1" fill="#c0c0c0"/>
<rect x="60" y="485" width="3" height="1" fill="#c0c0c0"/>
<rect x="66" y="485" width="3" height="1" fill="#c0c0c0"/>
<rect x="72" y="485" width="3" height="1" fill="#c0c0c0"/>
<rect x="78" y="485" width="3" height="1" fill="#c0c0c0"/>
<rect x="84" y="485" width="3" height="1" fill="#c0c0c0"/>
<rect x="90" y="485" width="3" height="1" fill="#c0c0c0"/>
<rect x="96" y="485" width="3" height="1" fill="#c0c0c0"/>
<rect x="102" y="485" width="3" height="1" fill="#c0c0c0"/>
<rect x="108" y="485" width="3" height="1" fill="#c0c0c0"/>
<rect x="114" y="485" width="3" height="1" fill="#c0c0c0"/>
<rect x="120" y="485" width="3" height="1" fill="#c0c0c0"/>
<rect x="126" y="485" width="3" height="1" fill="#c0c0c0"/>
<rect x="132" y="485" width="3" height="1" fill="#c0c0c0"/>
<rect x="138" y="485" width="3" height="1" fill="#c0c0c0"/>
<rect x="144" y="485" width="3" height="1" fill="#c0c0c0"/>
<rect x="150" y="485" width="3" height="1" fill="#c0c0c0"/>
<rect x="156" y="485" width="3" height="1" fill="#c0c0c0"/>
<rect x="162" y="485" width="3" height="1" fill="#c0c0c0"/>
<rect x="168" y="485" width="3" height="1" fill="#c0c0c0"/>
<rect x="174" y="485" width="3" height="1" fill="#c0c0c0"/>
<rect x="180" y="485" width="3" height="1" fill="#c0c0c0"/>
<rect x="186" y="485" width="3" height="1" fill="#c0c0c0"/>
<rect x="192" y="485" width="3" height="1" fill="#c0c0c0"/>
<rect x="198" y="485" width="3" height="1" fill="#c0c0c0"/>
<rect x="204" y="485" width="3" height="1" fill="#c0c0c0"/>
<rect x="210" y="485" width="3" height="1" fill="#c0c0c0"/>
<rect x="216" y="485" width="3" height="1" fill="#c0c0c0"/>
<rect x="222" y="485" width="3" height="1" fill="#c0c0c0"/>
<rect x="228" y="485" width="3" height="1" fill="#c0c0c0"/>
<rect x="234" y="485" width="3" height="1" fill="#c0c0c0"/>
<rect x="240" y="485" width="3" height="1" fill="#c0c0c0"/>
<rect x="246" y="485" width="3" height="1" fill="#c0c0c0"/>
<rect x="252" y="485" width="3" height="1" fill="#c0c0c0"/>
<rect x="258" y="485" width="3" height="1" fill="#c0c0c0"/>
<rect x="264" y="485" width="3" height="1" fill="#c0c0c0"/>
<rect x="270" y="485" width="3" height="1" fill="#c0c0c0"/>
<rect x="276" y="485" width="3" height="1" fill="#c0c0c0"/>
<rect x="282" y="485" width="3" height="1" fill="#c0c0c0"/>
<rect x="288" y="485" width="3" height="1" fill="#c0c0c0"/>
<rect x="294" y="485" width="3" height="1" fill="#c0c0c0"/>
<rect x="300" y="485" width="3" height="1" fill="#c0c0c0"/>
<rect x="306" y="485" width="3" height="1" fill="#c0c0c0"/>
<rect x="312" y="485" width="3" height="1" fill="#c0c0c0"/>
<rect x="318" y="485" width="3" height="1" fill="#c0c0c0"/>
<rect x="324" y="485" width="3" height="1" fill="#c0c0c0"/>
<rect x="330" y="485" width="3" height="1" fill="#c0c0c0"/>
<rect x="336" y="485" width="3" height="1" fill="#c0c0c0"/>
<rect x="342" y="485" width="3" height="1" fill="#c0c0c0"/>
<rect x="348" y="485" width="3" height="1" fill="#c0c0c0"/>
<rect x="354" y="485" width="3" height="1" fill="#c0c0c0"/>
<rect x="360" y="485" width="3" height="1" fill="#c0c0c0"/>
<rect x="366" y="485" width="3" height="1" fill="#c0c0c0"/>
<rect x="372" y="485" width="3" height="1" fill="#c0c0c0"/>
<rect x="378" y="485" width="3" height="1" fill="#c0c0c0"/>
<rect x="384" y="485" width="3" height="1" fill="#c0c0c0"/>
<rect x="390" y="485" width="3" height="1" fill="#c0c0c0"/>
<rect x="396" y="485" width="3" height="1" fill="#c0c0c0"/>
<rect x="402" y="485" width="3" height="1" fill="#c0c0c0"/>
<rect x="408" y="485" width="3" height="1" fill="#c0c0c0"/>
<rect x="414" y="485" width="3" height="1" fill="#c0c0c0"/>
<rect x="420" y="485" width="3" height="1" fill="#c0c0c0"/>
<rect x="426" y="485" width="3" height="1" fill="#c0c0c0"/>
<rect x="432" y="485" width="3" height="1" fill="#c0c0c0"/>
<rect x="438" y="485" width="3" height="1" fill="#c0c0c0"/>
<rect x="444" y="485" width="3" height="1" fill="#c0c0c0"/>
<rect x="450" y="485" width="3" height="1" fill="#c0c0c0"/>
<rect x="456" y="485" width="3" height="1" fill="#c0c0c0"/>
<rect x="462" y="485" width="3" height="1" fill="#c0c0c0"/>
<rect x="468" y="485" width="3" height="1" fill="#c0c0c0"/>
<rect x="474" y="485" width="3" height="1" fill="#c0c0c0"/>
<rect x="480" y="485" width="3" height="1" fill="#c0c0c0"/>
<rect x="486" y="485" width="3" height="1" fill="#c0c0c0"/>
<rect x="492" y="485" width="3" height="1" fill="#c0c0c0"/>
<rect x="498" y="485" width="3" height="1" fill="#c0c0c0"/>
<rect x="504" y="485" width="3" height="1" fill="#c0c0c0"/>
<rect x="510" y="485" width="3" height="1" fill="#c0c0c0"/>
<rect x="516" y="485" width="3" height="1" fill="#c0c0c0"/>
<rect x="522" y="485" width="3" height="1" fill="#c0c0c0"/>
<rect x="528" y="485" width="3" height="1" fill="#c0c0c0"/>
<rect x="534" y="485" width="3" height="1" fill="#c0c0c0"/>
<rect x="540" y="485" width="3" height="1" fill="#c0c0c0"/>
<rect x="546" y="485" width="3" height="1" fill="#c0c0c0"/>
<rect x="552" y="485" width="3" height="1" fill="#c0c0c0"/>
<rect x="558" y="485" width="3" height="1" fill="#c0c0c0"/>
<rect x="564" y="485" width="3" height="1" fill="#c0c0c0"/>
<rect x="570" y="485" width="3" height="1" fill="#c0c0c0"/>
<rect x="576" y="485" width="3" height="1" fill="#c0c0c0"/>
<rect x="582" y="485" width="3" height="1" fill="#c0c0c0"/>
<rect x="588" y="485" width="3" height="1" fill="#c0c0c0"/>
<rect x="594" y="485" width="3" height="1" fill="#c0c0c0"/>
<rect x="600" y="485" width="3" height="1" fill="#c0c0c0"/>
<rect x="606" y="485" width="3" height="1" fill="#c0c0c0"/>
<rect x="612" y="485" width="3" height="1" fill="#c0c0c0"/>
<rect x="618" y="485" width="3" height="1" fill="#c0c0c0"/>
<rect x="624" y="485" width="3" height="1" fill="#c0c0c0"/>
<rect x="630" y="485" width="3" height="1" fill="#c0c0c0"/>
<rect x="636" y="485" width="3" height="1" fill="#c0c0c0"/>
<rect x="642" y="485" width="3" height="1" fill="#c0c0c0"/>
<rect x="648" y="485" width="3" height="1" fill="#c0c0c0"/>
<rect x="654" y="485" width="3" height="1" fill="#c0c0c0"/>
<rect x="660" y="485" width="3" height="1" fill="#c0c0c0"/>
<rect x="666" y="485" width="3" height="1" fill="#c0c0c0"/>
<rect x="672" y="485" width="3" height="1" fill="#c0c0c0"/>
<rect x="678" y="485" width="3" height="1" fill="#c0c0c0"/>
<rect x="684" y="485" width="3" height="1" fill="#c0c0c0"/>
<rect x="690" y="485" width="3" height="1" fill="#c0c0c0"/>
<rect x="696" y="485" width="3" height="1" fill="#c0c0c0"/>
<rect x="702" y="485" width="3" height="1" fill="#c0c0c0"/>
<rect x="708" y="485" width="3" height="1" fill="#c0c0c0"/>
<rect x="714" y="485" width="3" height="1" fill="#c0c0c0"/>
<rect x="720" y="485" width="3" height="1" fill="#c0c0c0"/>
<rect x="726" y="485" width="3" height="1" fill="#c0c0c0"/>
<rect x="732" y="485" width="3" height="1" fill="#c0c0c0"/>
<rect x="738" y="485" width="3" height="1" fill="#c0c0c0"/>
<rect x="744" y="485" width="3" height="1" fill="#c0c0c0"/>
<rect x="750" y="485" width="3" height="1" fill="#c0c0c0"/>
<rect x="756" y="485" width="3" height="1" fill="#c0c0c0"/>
<rect x="762" y="485" width="3" height="1" fill="#c0c0c0"/>
<rect x="768" y="485" width="3" height="1" fill="#c0c0c0"/>
<rect x="774" y="485" width="3" height="1" fill="#c0c0c0"/>
<rect x="780" y="485" width="3" height="1" fill="#c0c0c0"/>
<rect x="786" y="485" width="3" height="1" fill="#c0c0c0"/>
<rect x="792" y="485" width="3" height="1" fill="#c0c0c0"/>
<rect x="798" y="485" width="3" height="1" fill="#c0c0c0"/>
<rect x="804" y="485" width="3" height="1" fill="#c0c0c0"/>
<rect x="810" y="485" width="3" height="1" fill="#c0c0c0"/>
<rect x="816" y="485" width="3" height="1" fill="#c0c0c0"/>
<rect x="822" y="485" width="3" height="1" fill="#c0c0c0"/>
<rect x="828" y="485" width="3" height="1" fill="#c0c0c0"/>
<rect x="834" y="485" width="3" height="1" fill="#c0c0c0"/>
<rect x="840" y="485" width="3" height="1" fill="#c0c0c0"/>
<rect x="846" y="485" width="3" height="1" fill="#c0c0c0"/>
<rect x="852" y="485" width="3" height="1" fill="#c0c0c0"/>
<rect x="858" y="485" width="3" height="1" fill="#c0c0c0"/>
<rect x="864" y="485" width="3" height="1" fill="#c0c0c0"/>
<rect x="870" y="485" width="3" height="1" fill="#c0c0c0"/>
<rect x="876" y="485" width="3" height="1" fill="#c0c0c0"/>
<rect x="882" y="485" width="3" height="1" fill="#c0c0c0"/>
<rect x="888" y="485" width="3" height="1" fill="#c0c0c0"/>
<rect x="894" y="485" width="3" height="1" fill="#c0c0c0"/>
<rect x="900" y="485" width="3" height="1" fill="#c0c0c0"/>
<rect x="906" y="485" width="3" height="1" fill="#c0c0c0"/>
<rect x="912" y="485" width="3" height="1" fill="#c0c0c0"/>
<rect x="918" y="485" width="3" height="1" fill="#c0c0c0"/>
<rect x="924" y="485" width="3" height="1" fill="#c0c0c0"/>
<rect x="930" y="485" width="3" height="1" fill="#c0c0c0"/>
<rect x="936" y="485" width="3" height="1" fill="#c0c0c0"/>
<rect x="942" y="485" width="3" height="1" fill="#c0c0c0"/>
<rect x="948" y="485" width="3" height="1" fill="#c0c0c0"/>
<rect x="954" y="485" width="3" height="1" fill="#c0c0c0"/>
<rect x="960" y="485" width="3" height="1" fill="#c0c0c0"/>
<rect x="966" y="485" width="3" height="1" fill="#c0c0c0"/>
<rect x="972" y="485" width="3" height="1" fill="#c0c0c0"/>
<rect x="978" y="485" width="3" height="1" fill="#c0c0c0"/>
<rect x="984" y="485" width="3" height="1" fill="#c0c0c0"/>
<rect x="990" y="485" width="3" height="1" fill="#c0c0c0"/>
<rect x="996" y="485" width="3" height="1" fill="#c0c0c0"/>
<rect x="1002" y="485" width="3" height="1" fill="#c0c0c0"/>
<rect x="1008" y="485" width="3" height="1" fill="#c0c0c0"/>
<rect x="1014" y="485" width="3" height="1" fill="#c0c0c0"/>
<rect x="1020" y="485" width="3" height="1" fill="#c0c0c0"/>
<rect x="1026" y="485" width="3" height="1" fill="#c0c0c0"/>
<rect x="1032" y="485" width="3" height="1" fill="#c0c0c0"/>
<rect x="1038" y="485" width="3" height="1" fill="#c0c0c0"/>
<rect x="1044" y="485" width="3" height="1" fill="#c0c0c0"/>
<rect x="1050" y="485" width="3" height="1" fill="#c0c0c0"/>
<rect x="1056" y="485" width="3" height="1" fill="#c0c0c0"/>
<rect x="1062" y="485" width="3" height="1" fill="#c0c0c0"/>
<rect x="1068" y="485" width="3" height="1" fill="#c0c0c0"/>
<rect x="1074" y="485" width="3" height="1" fill="#c0c0c0"/>
<rect x="1080" y="485" width="3" height="1" fill="#c0c0c0"/>
<rect x="1086" y="485" width="3" height="1" fill="#c0c0c0"/>
<rect x="1092" y="485" width="3" height="1" fill="#c0c0c0"/>
<rect x="1098" y="485" width="3" height="1" fill="#c0c0c0"/>
<rect x="1104" y="485" width="3" height="1" fill="#c0c0c0"/>
<rect x="1110" y="485" width="3" height="1" fill="#c0c0c0"/>
<rect x="1116" y="485" width="3" height="1" fill="#c0c0c0"/>
<rect x="1122" y="485" width="3" height="1" fill="#c0c0c0"/>
<rect x="1128" y="485" width="3" height="1" fill="#c0c0c0"/>
<rect x="1134" y="485" width="3" height="1" fill="#c0c0c0"/>
<rect x="1140" y="485" width="3" height="1" fill="#c0c0c0"/>
<rect x="1146" y="485" width="3" height="1" fill="#c0c0c0"/>
<rect x="1152" y="485" width="3" height="1" fill="#c0c0c0"/>
<rect x="1158" y="485" width="3" height="1" fill="#c0c0c0"/>
<rect x="1164" y="485" width="3" height="1" fill="#c0c0c0"/>
<rect x="1170" y="485" width="3" height="1" fill="#c0c0c0"/>
<rect x="1176" y="485" width="3" height="1" fill="#c0c0c0"/>
<rect x="1182" y="485" width="3" height="1" fill="#c0c0c0"/>
<rect x="1188" y="485" width="3" height="1" fill="#c0c0c0"/>
<rect x="1194" y="485" width="3" height="1" fill="#c0c0c0"/>
<rect x="1200" y="485" width="3" height="1" fill="#c0c0c0"/>
<rect x="1206" y="485" width="3" height="1" fill="#c0c0c0"/>
<rect x="1212" y="485" width="3" height="1" fill="#c0c0c0"/>
<rect x="1218" y="485" width="3" height="1" fill="#c0c0c0"/>
<rect x="1224" y="485" width="3" height="1" fill="#c0c0c0"/>
<rect x="1230" y="485" width="3" height="1" fill="#c0c0c0"/>
<rect x="1236" y="485" width="3" height="1" fill="#c0c0c0"/>
<rect x="1242" y="485" width="3" height="1" fill="#c0c0c0"/>
<rect x="1248" y="485" width="3" height="1" fill="#c0c0c0"/>
<rect x="1254" y="485" width="3" height="1" fill="#c0c0c0"/>
<rect x="1260" y="485" width="3" height="1" fill="#c0c0c0"/>
<rect x="1266" y="485" width="3" height="1" fill="#c0c0c0"/>
<rect x="1272" y="485" width="3" height="1" fill="#c0c0c0"/>
<rect x="1278" y="485" width="3" height="1" fill="#c0c0c0"/>
<rect x="1284" y="485" width="3" height="1" fill="#c0c0c0"/>
<rect x="1290" y="485" width="3" height="1" fill="#c0c0c0"/>
<rect x="1296" y="485" width="3" height="1" fill="#c0c0c0"/>
<rect x="1302" y="485" width="3" height="1" fill="#c0c0c0"/>
<rect x="6" y="523" width="3" height="1" fill="#c0c0c0"/>
<rect x="12" y="523" width="3" height="1" fill="#c0c0c0"/>
<rect x="18" y="523" width="3" height="1" fill="#c0c0c0"/>
<rect x="24" y="523" width="3" height="1" fill="#c0c0c0"/>
<rect x="30" y="523" width="3" height="1" fill="#c0c0c0"/>
<rect x="36" y="523" width="3" height="1" fill="#c0c0c0"/>
<rect x="42" y="523" width="3" height="1" fill="#c0c0c0"/>
<rect x="48" y="523" width="3" height="1" fill="#c0c0c0"/>
<rect x="54" y="523" width="3" height="1" fill="#c0c0c0"/>
<rect x="60" y="523" width="3" height="1" fill="#c0c0c0"/>
<rect x="66" y="523" width="3" height="1" fill="#c0c0c0"/>
<rect x="72" y="523" width="3" height="1" fill="#c0c0c0"/>
<rect x="78" y="523" width="3" height="1" fill="#c0c0c0"/>
<rect x="84" y="523" width="3" height="1" fill="#c0c0c0"/>
<rect x="90" y="523" width="3" height="1" fill="#c0c0c0"/>
<rect x="96" y="523" width="3" height="1" fill="#c0c0c0"/>
<rect x="102" y="523" width="3" height="1" fill="#c0c0c0"/>
<rect x="108" y="523" width="3" height="1" fill="#c0c0c0"/>
<rect x="114" y="523" width="3" height="1" fill="#c0c0c0"/>
<rect x="120" y="523" width="3" height="1" fill="#c0c0c0"/>
<rect x="126" y="523" width="3" height="1" fill="#c0c0c0"/>
<rect x="132" y="523" width="3" height="1" fill="#c0c0c0"/>
<rect x="138" y="523" width="3" height="1" fill="#c0c0c0"/>
<rect x="144" y="523" width="3" height="1" fill="#c0c0c0"/>
<rect x="150" y="523" width="3" height="1" fill="#c0c0c0"/>
<rect x="156" y="523" width="3" height="1" fill="#c0c0c0"/>
<rect x="162" y="523" width="3" height="1" fill="#c0c0c0"/>
<rect x="168" y="523" width="3" height="1" fill="#c0c0c0"/>
<rect x="174" y="523" width="3" height="1" fill="#c0c0c0"/>
<rect x="180" y="523" width="3" height="1" fill="#c0c0c0"/>
<rect x="186" y="523" width="3" height="1" fill="#c0c0c0"/>
<rect x="192" y="523" width="3" height="1" fill="#c0c0c0"/>
<rect x="198" y="523" width="3" height="1" fill="#c0c0c0"/>
<rect x="204" y="523" width="3" height="1" fill="#c0c0c0"/>
<rect x="210" y="523" width="3" height="1" fill="#c0c0c0"/>
<rect x="216" y="523" width="3" height="1" fill="#c0c0c0"/>
<rect x="222" y="523" width="3" height="1" fill="#c0c0c0"/>
<rect x="228" y="523" width="3" height="1" fill="#c0c0c0"/>
<rect x="234" y="523" width="3" height="1" fill="#c0c0c0"/>
<rect x="240" y="523" width="3" height="1" fill="#c0c0c0"/>
<rect x="246" y="523" width="3" height="1" fill="#c0c0c0"/>
<rect x="252" y="523" width="3" height="1" fill="#c0c0c0"/>
<rect x="258" y="523" width="3" height="1" fill="#c0c0c0"/>
<rect x="264" y="523" width="3" height="1" fill="#c0c0c0"/>
<rect x="270" y="523" width="3" height="1" fill="#c0c0c0"/>
<rect x="276" y="523" width="3" height="1" fill="#c0c0c0"/>
<rect x="282" y="523" width="3" height="1" fill="#c0c0c0"/>
<rect x="288" y="523" width="3" height="1" fill="#c0c0c0"/>
<rect x="294" y="523" width="3" height="1" fill="#c0c0c0"/>
<rect x="300" y="523" width="3" height="1" fill="#c0c0c0"/>
<rect x="306" y="523" width="3" height="1" fill="#c0c0c0"/>
<rect x="312" y="523" width="3" height="1" fill="#c0c0c0"/>
<rect x="318" y="523" width="3" height="1" fill="#c0c0c0"/>
<rect x="324" y="523" width="3" height="1" fill="#c0c0c0"/>
<rect x="330" y="523" width="3" height="1" fill="#c0c0c0"/>
<rect x="336" y="523" width="3" height="1" fill="#c0c0c0"/>
<rect x="342" y="523" width="3" height="1" fill="#c0c0c0"/>
<rect x="348" y="523" width="3" height="1" fill="#c0c0c0"/>
<rect x="354" y="523" width="3" height="1" fill="#c0c0c0"/>
<rect x="360" y="523" width="3" height="1" fill="#c0c0c0"/>
<rect x="366" y="523" width="3" height="1" fill="#c0c0c0"/>
<rect x="372" y="523" width="3" height="1" fill="#c0c0c0"/>
<rect x="378" y="523" width="3" height="1" fill="#c0c0c0"/>
<rect x="384" y="523" width="3" height="1" fill="#c0c0c0"/>
<rect x="390" y="523" width="3" height="1" fill="#c0c0c0"/>
<rect x="396" y="523" width="3" height="1" fill="#c0c0c0"/>
<rect x="402" y="523" width="3" height="1" fill="#c0c0c0"/>
<rect x="408" y="523" width="3" height="1" fill="#c0c0c0"/>
<rect x="414" y="523" width="3" height="1" fill="#c0c0c0"/>
<rect x="420" y="523" width="3" height="1" fill="#c0c0c0"/>
<rect x="426" y="523" width="3" height="1" fill="#c0c0c0"/>
<rect x="432" y="523" width="3" height="1" fill="#c0c0c0"/>
<rect x="438" y="523" width="3" height="1" fill="#c0c0c0"/>
<rect x="444" y="523" width="3" height="1" fill="#c0c0c0"/>
<rect x="450" y="523" width="3" height="1" fill="#c0c0c0"/>
<rect x="456" y="523" width="3" height="1" fill="#c0c0c0"/>
<rect x="462" y="523" width="3" height="1" fill="#c0c0c0"/>
<rect x="468" y="523" width="3" height="1" fill="#c0c0c0"/>
<rect x="474" y="523" width="3" height="1" fill="#c0c0c0"/>
<rect x="480" y="523" width="3" height="1" fill="#c0c0c0"/>
<rect x="486" y="523" width="3" height="1" fill="#c0c0c0"/>
<rect x="492" y="523" width="3" height="1" fill="#c0c0c0"/>
<rect x="498" y="523" width="3" height="1" fill="#c0c0c0"/>
<rect x="504" y="523" width="3" height="1" fill="#c0c0c0"/>
<rect x="510" y="523" width="3" height="1" fill="#c0c0c0"/>
<rect x="516" y="523" width="3" height="1" fill="#c0c0c0"/>
<rect x="522" y="523" width="3" height="1" fill="#c0c0c0"/>
<rect x="528" y="523" width="3" height="1" fill="#c0c0c0"/>
<rect x="534" y="523" width="3" height="1" fill="#c0c0c0"/>
<rect x="540" y="523" width="3" height="1" fill="#c0c0c0"/>
<rect x="546" y="523" width="3" height="1" fill="#c0c0c0"/>
<rect x="552" y="523" width="3" height="1" fill="#c0c0c0"/>
<rect x="558" y="523" width="3" height="1" fill="#c0c0c0"/>
<rect x="564" y="523" width="3" height="1" fill="#c0c0c0"/>
<rect x="570" y="523" width="3" height="1" fill="#c0c0c0"/>
<rect x="576" y="523" width="3" height="1" fill="#c0c0c0"/>
<rect x="582" y="523" width="3" height="1" fill="#c0c0c0"/>
<rect x="588" y="523" width="3" height="1" fill="#c0c0c0"/>
<rect x="594" y="523" width="3" height="1" fill="#c0c0c0"/>
<rect x="600" y="523" width="3" height="1" fill="#c0c0c0"/>
<rect x="606" y="523" width="3" height="1" fill="#c0c0c0"/>
<rect x="612" y="523" width="3" height="1" fill="#c0c0c0"/>
<rect x="618" y="523" width="3" height="1" fill="#c0c0c0"/>
<rect x="624" y="523" width="3" height="1" fill="#c0c0c0"/>
<rect x="630" y="523" width="3" height="1" fill="#c0c0c0"/>
<rect x="636" y="523" width="3" height="1" fill="#c0c0c0"/>
<rect x="642" y="523" width="3" height="1" fill="#c0c0c0"/>
<rect x="648" y="523" width="3" height="1" fill="#c0c0c0"/>
<rect x="654" y="523" width="3" height="1" fill="#c0c0c0"/>
<rect x="660" y="523" width="3" height="1" fill="#c0c0c0"/>
<rect x="666" y="523" width="3" height="1" fill="#c0c0c0"/>
<rect x="672" y="523" width="3" height="1" fill="#c0c0c0"/>
<rect x="678" y="523" width="3" height="1" fill="#c0c0c0"/>
<rect x="684" y="523" width="3" height="1" fill="#c0c0c0"/>
<rect x="690" y="523" width="3" height="1" fill="#c0c0c0"/>
<rect x="696" y="523" width="3" height="1" fill="#c0c0c0"/>
<rect x="702" y="523" width="3" height="1" fill="#c0c0c0"/>
<rect x="708" y="523" width="3" height="1" fill="#c0c0c0"/>
<rect x="714" y="523" width="3" height="1" fill="#c0c0c0"/>
<rect x="720" y="523" width="3" height="1" fill="#c0c0c0"/>
<rect x="726" y="523" width="3" height="1" fill="#c0c0c0"/>
<rect x="732" y="523" width="3" height="1" fill="#c0c0c0"/>
<rect x="738" y="523" width="3" height="1" fill="#c0c0c0"/>
<rect x="744" y="523" width="3" height="1" fill="#c0c0c0"/>
<rect x="750" y="523" width="3" height="1" fill="#c0c0c0"/>
<rect x="756" y="523" width="3" height="1" fill="#c0c0c0"/>
<rect x="762" y="523" width="3" height="1" fill="#c0c0c0"/>
<rect x="768" y="523" width="3" height="1" fill="#c0c0c0"/>
<rect x="774" y="523" width="3" height="1" fill="#c0c0c0"/>
<rect x="780" y="523" width="3" height="1" fill="#c0c0c0"/>
<rect x="786" y="523" width="3" height="1" fill="#c0c0c0"/>
<rect x="792" y="523" width="3" height="1" fill="#c0c0c0"/>
<rect x="798" y="523" width="3" height="1" fill="#c0c0c0"/>
<rect x="804" y="523" width="3" height="1" fill="#c0c0c0"/>
<rect x="810" y="523" width="3" height="1" fill="#c0c0c0"/>
<rect x="816" y="523" width="3" height="1" fill="#c0c0c0"/>
<rect x="822" y="523" width="3" height="1" fill="#c0c0c0"/>
<rect x="828" y="523" width="3" height="1" fill="#c0c0c0"/>
<rect x="834" y="523" width="3" height="1" fill="#c0c0c0"/>
<rect x="840" y="523" width="3" height="1" fill="#c0c0c0"/>
<rect x="846" y="523" width="3" height="1" fill="#c0c0c0"/>
<rect x="852" y="523" width="3" height="1" fill="#c0c0c0"/>
<rect x="858" y="523" width="3" height="1" fill="#c0c0c0"/>
<rect x="864" y="523" width="3" height="1" fill="#c0c0c0"/>
<rect x="870" y="523" width="3" height="1" fill="#c0c0c0"/>
<rect x="876" y="523" width="3" height="1" fill="#c0c0c0"/>
<rect x="882" y="523" width="3" height="1" fill="#c0c0c0"/>
<rect x="888" y="523" width="3" height="1" fill="#c0c0c0"/>
<rect x="894" y="523" width="3" height="1" fill="#c0c0c0"/>
<rect x="900" y="523" width="3" height="1" fill="#c0c0c0"/>
<rect x="906" y="523" width="3" height="1" fill="#c0c0c0"/>
<rect x="912" y="523" width="3" height="1" fill="#c0c0c0"/>
<rect x="918" y="523" width="3" height="1" fill="#c0c0c0"/>
<rect x="924" y="523" width="3" height="1" fill="#c0c0c0"/>
<rect x="930" y="523" width="3" height="1" fill="#c0c0c0"/>
<rect x="936" y="523" width="3" height="1" fill="#c0c0c0"/>
<rect x="942" y="523" width="3" height="1" fill="#c0c0c0"/>
<rect x="948" y="523" width="3" height="1" fill="#c0c0c0"/>
<rect x="954" y="523" width="3" height="1" fill="#c0c0c0"/>
<rect x="960" y="523" width="3" height="1" fill="#c0c0c0"/>
<rect x="966" y="523" width="3" height="1" fill="#c0c0c0"/>
<rect x="972" y="523" width="3" height="1" fill="#c0c0c0"/>
<rect x="978" y="523" width="3" height="1" fill="#c0c0c0"/>
<rect x="984" y="523" width="3" height="1" fill="#c0c0c0"/>
<rect x="990" y="523" width="3" height="1" fill="#c0c0c0"/>
<rect x="996" y="523" width="3" height="1" fill="#c0c0c0"/>
<rect x="1002" y="523" width="3" height="1" fill="#c0c0c0"/>
<rect x="1008" y="523" width="3" height="1" fill="#c0c0c0"/>
<rect x="1014" y="523" width="3" height="1" fill="#c0c0c0"/>
<rect x="1020" y="523" width="3" height="1" fill="#c0c0c0"/>
<rect x="1026" y="523" width="3" height="1" fill="#c0c0c0"/>
<rect x="1032" y="523" width="3" height="1" fill="#c0c0c0"/>
<rect x="1038" y="523" width="3" height="1" fill="#c0c0c0"/>
<rect x="1044" y="523" width="3" height="1" fill="#c0c0c0"/>
<rect x="1050" y="523" width="3" height="1" fill="#c0c0c0"/>
<rect x="1056" y="523" width="3" height="1" fill="#c0c0c0"/>
<rect x="1062" y="523" width="3" height="1" fill="#c0c0c0"/>
<rect x="1068" y="523" width="3" height="1" fill="#c0c0c0"/>
<rect x="1074" y="523" width="3" height="1" fill="#c0c0c0"/>
<rect x="1080" y="523" width="3" height="1" fill="#c0c0c0"/>
<rect x="1086" y="523" width="3" height="1" fill="#c0c0c0"/>
<rect x="1092" y="523" width="3" height="1" fill="#c0c0c0"/>
<rect x="1098" y="523" width="3" height="1" fill="#c0c0c0"/>
<rect x="1104" y="523" width="3" height="1" fill="#c0c0c0"/>
<rect x="1110" y="523" width="3" height="1" fill="#c0c0c0"/>
<rect x="1116" y="523" width="3" height="1" fill="#c0c0c0"/>
<rect x="1122" y="523" width="3" height="1" fill="#c0c0c0"/>
<rect x="1128" y="523" width="3" height="1" fill="#c0c0c0"/>
<rect x="1134" y="523" width="3" height="1" fill="#c0c0c0"/>
<rect x="1140" y="523" width="3" height="1" fill="#c0c0c0"/>
<rect x="1146" y="523" width="3" height="1" fill="#c0c0c0"/>
<rect x="1152" y="523" width="3" height="1" fill="#c0c0c0"/>
<rect x="1158" y="523" width="3" height="1" fill="#c0c0c0"/>
<rect x="1164" y="523" width="3" height="1" fill="#c0c0c0"/>
<rect x="1170" y="523" width="3" height="1" fill="#c0c0c0"/>
<rect x="1176" y="523" width="3" height="1" fill="#c0c0c0"/>
<rect x="1182" y="523" width="3" height="1" fill="#c0c0c0"/>
<rect x="1188" y="523" width="3" height="1" fill="#c0c0c0"/>
<rect x="1194" y="523" width="3" height="1" fill="#c0c0c0"/>
<rect x="1200" y="523" width="3" height="1" fill="#c0c0c0"/>
<rect x="1206" y="523" width="3" height="1" fill="#c0c0c0"/>
<rect x="1212" y="523" width="3" height="1" fill="#c0c0c0"/>
<rect x="1218" y="523" width="3" height="1" fill="#c0c0c0"/>
<rect x="1224" y="523" width="3" height="1" fill="#c0c0c0"/>
<rect x="1230" y="523" width="3" height="1" fill="#c0c0c0"/>
<rect x="1236" y="523" width="3" height="1" fill="#c0c0c0"/>
<rect x="1242" y="523" width="3" height="1" fill="#c0c0c0"/>
<rect x="1248" y="523" width="3" height="1" fill="#c0c0c0"/>
<rect x="1254" y="523" width="3" height="1" fill="#c0c0c0"/>
<rect x="1260" y="523" width="3" height="1" fill="#c0c0c0"/>
<rect x="1266" y="523" width="3" height="1" fill="#c0c0c0"/>
<rect x="1272" y="523" width="3" height="1" fill="#c0c0c0"/>
<rect x="1278" y="523" width="3" height="1" fill="#c0c0c0"/>
<rect x="1284" y="523" width="3" height="1" fill="#c0c0c0"/>
<rect x="1290" y="523" width="3" height="1" fill="#c0c0c0"/>
<rect x="1296" y="523" width="3" height="1" fill="#c0c0c0"/>
<rect x="1302" y="523" width="3" height="1" fill="#c0c0c0"/>
<polyline points="5,490.5 9,492.5 13,494.5 17,491.5 21,490.5 25,491.5 29,496.5 33,494.5 37,494.5 41,493.5 45,494.5 49,499.5 53,500.5 57,502.5 61,498.5 65,500.5 69,521.5 73,509.5 77,511.5 81,510.5 85,512.5 89,501.5 93,503.5 97,503.5 101,499.5 105,495.5 109,490.5 113,492.5 117,499.5 121,502.5 125,500.5 129,499.5 133,503.5 137,498.5 141,497.5 145,496.5 149,500.5 153,500.5 157,498.5 161,500.5 165,498.5 169,499.5 173,500.5 177,499.5 181,498.5 185,499.5 189,499.5 193,491.5 197,497.5 201,499.5 205,509.5 209,512.5 213,505.5 217,509.5 221,507.5 225,512.5 229,514.5 233,506.5 237,503.5 241,502.5 245,504.5 249,503.5 253,505.5 257,511.5 261,507.5 265,503.5 269,502.5 273,502.5 277,499.5 281,499.5 285,501.5 289,495.5 293,497.5 297,499.5 301,512.5 305,512.5 309,503.5 313,506.5 317,501.5 321,504.5 325,506.5 329,506.5 333,505.5 337,491.5 341,493.5 345,492.5 349,490.5 353,489.5 357,491.5 361,488.5 365,495.5 369,493.5 373,491.5 377,492.5 381,490.5 385,488.5 389,487.5 393,491.5 397,488.5 401,487.5 405,487.5 409,485.5 413,493.5 417,492.5 421,494.5 425,498.5 429,496.5 433,498.5 437,494.5 441,500.5 445,498.5 449,498.5 453,498.5 457,516.5 461,517.5 465,517.5 469,514.5 473,520.5 477,518.5 481,511.5 485,512.5 489,511.5 493,509.5 497,503.5 501,508.5 505,506.5 509,508.5 513,509.5 517,505.5 521,491.5 525,492.5 529,482.5 533,484.5 537,488.5 541,487.5 545,489.5 549,488.5 553,499.5 557,504.5 561,504.5 565,504.5 569,505.5 573,507.5 577,512.5 581,511.5 585,509.5 589,501.5 593,500.5 597,502.5 601,503.5 605,504.5 609,511.5 613,510.5 617,507.5 621,500.5 625,499.5 629,494.5 633,497.5 637,496.5 641,493.5 645,491.5 649,488.5 653,487.5 657,487.5 661,483.5 665,481.5 669,479.5 673,503.5 677,501.5 681,504.5 685,501.5 689,505.5 693,502.5 697,503.5 701,501.5 705,501.5 709,496.5 713,494.5 717,502.5 721,503.5 725,514.5 729,517.5 733,519.5 737,520.5 741,517.5 745,512.5 749,516.5 753,517.5 757,517.5 761,509.5 765,509.5 769,502.5 773,497.5 777,495.5 781,495.5 785,496.5 789,484.5 793,483.5 797,483.5 801,482.5 805,479.5 809,486.5 813,484.5 817,491.5 821,491.5 825,492.5 829,491.5 833,513.5 837,509.5 841,510.5 845,508.5 849,506.5 853,505.5 857,500.5 861,495.5 865,493.5 869,495.5 873,494.5 877,495.5 881,495.5 885,493.5 889,497.5 893,501.5 897,501.5 901,501.5 905,507.5 909,509.5 913,505.5 917,504.5 921,505.5 925,504.5 929,500.5 933,505.5 937,505.5 941,501.5 945,500.5 949,497.5 953,497.5 957,502.5 961,501.5 965,501.5 969,500.5 973,499.5 977,494.5 981,502.5 985,495.5 989,494.5 993,496.5 997,496.5 1001,493.5 1005,487.5 1009,480.5 1013,492.5 1017,492.5 1021,490.5 1025,498.5 1029,503.5 1033,490.5 1037,493.5" fill="none" stroke="#1e90ff" stroke-width="1"/>
</g>
<text x="9" y="469" font-size="10" fill="#000" text-anchor="start" font-weight="normal"  textLength="68" lengthAdjust="spacingAndGlyphs">RSI(14) 60.4856</text>
<path d="M8 41 L11.5 37 L15 41 Z" fill="#000"/>
<text x="20" y="42" font-size="10" fill="#000" text-anchor="start" font-weight="normal"  textLength="56.5" lengthAdjust="spacingAndGlyphs">USDCAD,H4</text>
<text x="82.3" y="42" font-size="10" fill="#000" text-anchor="start" font-weight="normal"  textLength="33" lengthAdjust="spacingAndGlyphs">1.34941</text>
<text x="118.2" y="42" font-size="10" fill="#000" text-anchor="start" font-weight="normal"  textLength="33" lengthAdjust="spacingAndGlyphs">1.35055</text>
<text x="154" y="42" font-size="10" fill="#000" text-anchor="start" font-weight="normal"  textLength="33" lengthAdjust="spacingAndGlyphs">1.34719</text>
<text x="190" y="42" font-size="10" fill="#000" text-anchor="start" font-weight="normal"  textLength="33" lengthAdjust="spacingAndGlyphs">1.34753</text>
<rect x="0" y="572" width="1348" height="1" fill="#e3e3e3"/>
<rect x="0" y="573" width="1348" height="1" fill="#f4f4f4"/>
<rect x="0" y="574" width="1348" height="1" fill="#000"/>
<rect x="0" y="575" width="1348" height="19" fill="#f0f0f0"/>
<rect x="0" y="594" width="1348" height="1" fill="#ffffff"/>
<rect x="0" y="595" width="1348" height="3" fill="#f0f0f0"/>
<rect x="0" y="598" width="1348" height="1" fill="#a0a0a0"/>
<rect x="0" y="575" width="1" height="19" fill="#a0a0a0"/>
<rect x="1" y="575" width="1" height="19" fill="#696969"/>
<rect x="278" y="574" width="92" height="19" fill="#fff"/>
<rect x="278" y="575" width="1" height="18" fill="#000"/>
<rect x="369" y="575" width="1" height="18" fill="#000"/>
<rect x="278" y="592" width="92" height="1" fill="#000"/>
<text x="18.3" y="589" font-size="12" fill="#6a6a6a" textLength="67.5" lengthAdjust="spacingAndGlyphs">EURUSD,H4</text>
<text x="109" y="589" font-size="12" fill="#6a6a6a" textLength="69.6" lengthAdjust="spacingAndGlyphs">AUDUSD,H4</text>
<text x="200.5" y="589" font-size="12" fill="#6a6a6a" textLength="66.4" lengthAdjust="spacingAndGlyphs">USDCHF,H4</text>
<text x="289.4" y="589" font-size="12" fill="#000" textLength="68.5" lengthAdjust="spacingAndGlyphs">USDCAD,H4</text>
<text x="380.3" y="589" font-size="12" fill="#6a6a6a" textLength="70.3" lengthAdjust="spacingAndGlyphs">USDCNH,H4</text>
<text x="473.4" y="589" font-size="12" fill="#6a6a6a" textLength="72.1" lengthAdjust="spacingAndGlyphs">USDJPY,M15</text>
<text x="569.3" y="589" font-size="12" fill="#6a6a6a" textLength="68.1" lengthAdjust="spacingAndGlyphs">XAUUSD,H1</text>
<text x="661.5" y="589" font-size="12" fill="#6a6a6a" textLength="93.1" lengthAdjust="spacingAndGlyphs">GBPUSD,Weekly</text>
<text x="777.2" y="589" font-size="12" fill="#6a6a6a" textLength="53" lengthAdjust="spacingAndGlyphs">SP500,H1</text>
<rect x="98" y="577" width="1" height="14" fill="#707070"/>
<rect x="190" y="577" width="1" height="14" fill="#707070"/>
<rect x="462" y="577" width="1" height="14" fill="#707070"/>
<rect x="558" y="577" width="1" height="14" fill="#707070"/>
<rect x="650" y="577" width="1" height="14" fill="#707070"/>
<rect x="767" y="577" width="1" height="14" fill="#707070"/>
<rect x="842" y="577" width="1" height="14" fill="#707070"/>
<path d="M1320.5 583.5 L1324.5 579.5 L1324.5 587.5 Z" fill="#8a8a8a"/>
<path d="M1343.5 583.5 L1339.5 579.5 L1339.5 587.5 Z" fill="#8a8a8a"/>
</svg>

<div class="sellT"><span>SELL</span></div>
<div class="sellP"><span class="s">1.34</span><span class="b">75</span><span class="p">3</span></div>
<div class="buyT"><span>BUY</span></div>
<div class="buyP"><span class="s">1.34</span><span class="b">78</span><span class="p">1</span></div>
<div class="lot"><div class="lb"><i class="dn"></i></div><div class="lv">3.00</div><div class="rb"><i class="up"></i></div></div>

</body></html>
